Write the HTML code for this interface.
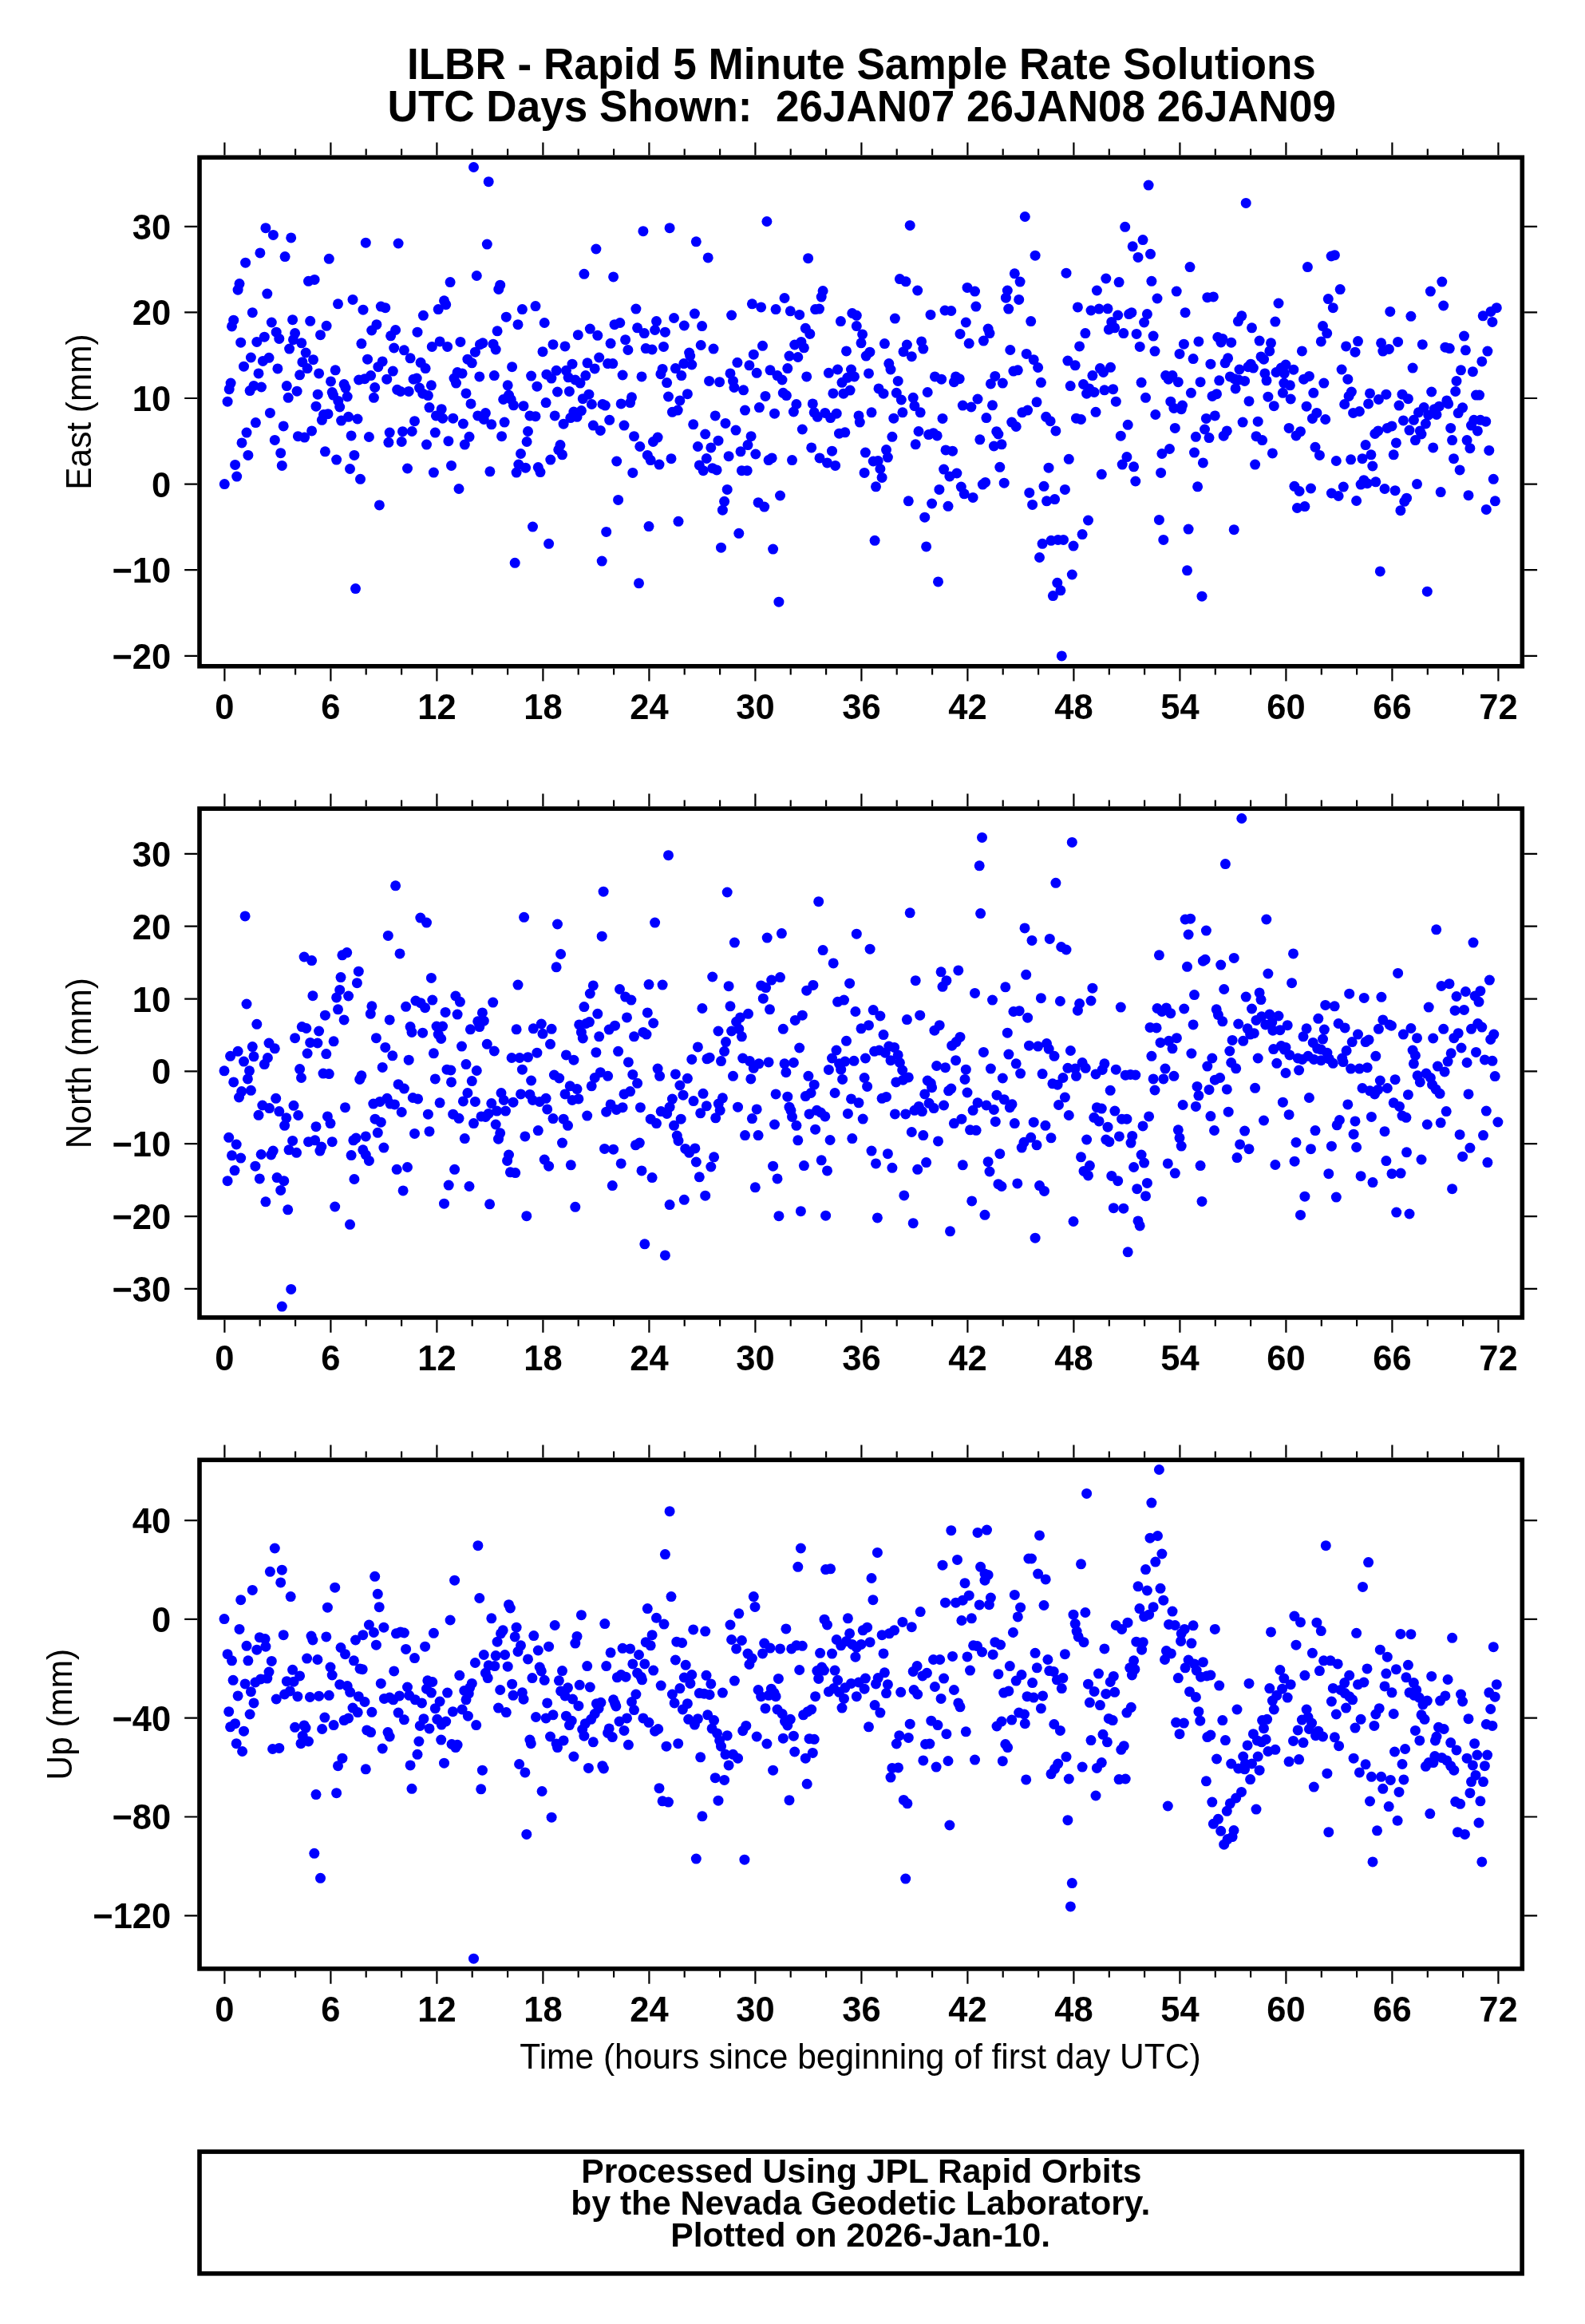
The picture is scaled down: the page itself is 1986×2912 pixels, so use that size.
<!DOCTYPE html>
<html><head><meta charset="utf-8"><style>
html,body{margin:0;padding:0;background:#fff;width:1986px;height:2912px;overflow:hidden}
svg{display:block;font-family:"Liberation Sans",sans-serif;will-change:transform}
</style></head><body>
<svg width="1986" height="2912" viewBox="0 0 1986 2912"><g font-family="Liberation Sans" font-weight="bold" font-size="56.4" text-anchor="middle" fill="#000"><text transform="translate(1079.4 99.2) scale(0.942 1)">ILBR - Rapid 5 Minute Sample Rate Solutions</text><text transform="translate(1079.8 152.2) scale(0.941 1)" xml:space="preserve">UTC Days Shown:  26JAN07 26JAN08 26JAN09</text></g><g fill="#0000ff"><circle cx="332.9" cy="285.7" r="6.5"/><circle cx="342.4" cy="294.4" r="6.5"/><circle cx="364.7" cy="297.9" r="6.5"/><circle cx="325.9" cy="316.9" r="6.5"/><circle cx="357.1" cy="321.6" r="6.5"/><circle cx="307.6" cy="329.2" r="6.5"/><circle cx="412.3" cy="324.3" r="6.5"/><circle cx="300" cy="355.6" r="6.5"/><circle cx="298.1" cy="363.2" r="6.5"/><circle cx="334.8" cy="368.1" r="6.5"/><circle cx="386.5" cy="352.3" r="6.5"/><circle cx="394.1" cy="350.4" r="6.5"/><circle cx="316.3" cy="391.7" r="6.5"/><circle cx="292.7" cy="401.2" r="6.5"/><circle cx="290.5" cy="408.9" r="6.5"/><circle cx="340.3" cy="404" r="6.5"/><circle cx="366.6" cy="400.7" r="6.5"/><circle cx="388.7" cy="402.3" r="6.5"/><circle cx="409.1" cy="408.3" r="6.5"/><circle cx="346.2" cy="416.2" r="6.5"/><circle cx="349.8" cy="424.4" r="6.5"/><circle cx="369.6" cy="417.6" r="6.5"/><circle cx="367.5" cy="425.7" r="6.5"/><circle cx="377.8" cy="429.8" r="6.5"/><circle cx="401.5" cy="419.7" r="6.5"/><circle cx="301.7" cy="429.2" r="6.5"/><circle cx="321.8" cy="428.4" r="6.5"/><circle cx="331.3" cy="422.2" r="6.5"/><circle cx="362.6" cy="437.1" r="6.5"/><circle cx="383.2" cy="442" r="6.5"/><circle cx="314.4" cy="448" r="6.5"/><circle cx="329.4" cy="452.4" r="6.5"/><circle cx="337" cy="448.3" r="6.5"/><circle cx="305.5" cy="459.2" r="6.5"/><circle cx="324" cy="467.9" r="6.5"/><circle cx="347.9" cy="461.9" r="6.5"/><circle cx="378.9" cy="453.7" r="6.5"/><circle cx="385.1" cy="461.6" r="6.5"/><circle cx="392.5" cy="450.7" r="6.5"/><circle cx="375.6" cy="469.8" r="6.5"/><circle cx="399.6" cy="467.9" r="6.5"/><circle cx="289.1" cy="480.1" r="6.5"/><circle cx="287.2" cy="487.7" r="6.5"/><circle cx="285.1" cy="503.2" r="6.5"/><circle cx="313.1" cy="489.6" r="6.5"/><circle cx="318" cy="483.4" r="6.5"/><circle cx="327.5" cy="485" r="6.5"/><circle cx="359.3" cy="483.6" r="6.5"/><circle cx="372.1" cy="490.2" r="6.5"/><circle cx="361.2" cy="498.3" r="6.5"/><circle cx="398.2" cy="494.2" r="6.5"/><circle cx="396" cy="509.2" r="6.5"/><circle cx="338.4" cy="517.4" r="6.5"/><circle cx="320.4" cy="529.6" r="6.5"/><circle cx="309" cy="542.1" r="6.5"/><circle cx="303" cy="554.9" r="6.5"/><circle cx="310.9" cy="570.4" r="6.5"/><circle cx="294.6" cy="582.4" r="6.5"/><circle cx="296.7" cy="597.1" r="6.5"/><circle cx="281.3" cy="606.6" r="6.5"/><circle cx="344.3" cy="551.4" r="6.5"/><circle cx="355.2" cy="533.9" r="6.5"/><circle cx="351.7" cy="567.7" r="6.5"/><circle cx="353.3" cy="583.4" r="6.5"/><circle cx="373.4" cy="546.7" r="6.5"/><circle cx="381.6" cy="548.1" r="6.5"/><circle cx="390.6" cy="539.9" r="6.5"/><circle cx="405.5" cy="519.5" r="6.5"/><circle cx="411" cy="518.7" r="6.5"/><circle cx="403.4" cy="526.3" r="6.5"/><circle cx="407.4" cy="565.8" r="6.5"/><circle cx="458.3" cy="304.2" r="6.5"/><circle cx="499.1" cy="305" r="6.5"/><circle cx="423.5" cy="380.8" r="6.5"/><circle cx="442" cy="375.4" r="6.5"/><circle cx="455" cy="388.2" r="6.5"/><circle cx="477.3" cy="384.1" r="6.5"/><circle cx="482.8" cy="385.7" r="6.5"/><circle cx="530.4" cy="395.3" r="6.5"/><circle cx="471.9" cy="406.7" r="6.5"/><circle cx="465.7" cy="414" r="6.5"/><circle cx="495.6" cy="413.5" r="6.5"/><circle cx="489.6" cy="420.8" r="6.5"/><circle cx="523" cy="416.2" r="6.5"/><circle cx="452.9" cy="430.6" r="6.5"/><circle cx="493.7" cy="436" r="6.5"/><circle cx="506.4" cy="438.8" r="6.5"/><circle cx="514.1" cy="448.8" r="6.5"/><circle cx="541.3" cy="434.4" r="6.5"/><circle cx="460.5" cy="450.2" r="6.5"/><circle cx="479.2" cy="452.9" r="6.5"/><circle cx="473.8" cy="459.7" r="6.5"/><circle cx="492.3" cy="465.1" r="6.5"/><circle cx="484.7" cy="475.2" r="6.5"/><circle cx="527.1" cy="454.3" r="6.5"/><circle cx="533.1" cy="461.6" r="6.5"/><circle cx="420.2" cy="463.8" r="6.5"/><circle cx="414.5" cy="477.9" r="6.5"/><circle cx="431.1" cy="481.5" r="6.5"/><circle cx="433" cy="486.1" r="6.5"/><circle cx="416.2" cy="491.5" r="6.5"/><circle cx="435.2" cy="497" r="6.5"/><circle cx="417.5" cy="495.1" r="6.5"/><circle cx="423.8" cy="502.4" r="6.5"/><circle cx="425.7" cy="510" r="6.5"/><circle cx="449.6" cy="476" r="6.5"/><circle cx="457" cy="474.7" r="6.5"/><circle cx="464.6" cy="470.6" r="6.5"/><circle cx="469.7" cy="485.5" r="6.5"/><circle cx="468.4" cy="498.3" r="6.5"/><circle cx="497.7" cy="488.3" r="6.5"/><circle cx="501.8" cy="490.4" r="6.5"/><circle cx="512.2" cy="490.4" r="6.5"/><circle cx="518.1" cy="475.2" r="6.5"/><circle cx="522.2" cy="474.1" r="6.5"/><circle cx="525.5" cy="486.1" r="6.5"/><circle cx="529.8" cy="493.2" r="6.5"/><circle cx="536.4" cy="495.6" r="6.5"/><circle cx="540.4" cy="482.8" r="6.5"/><circle cx="538" cy="510.6" r="6.5"/><circle cx="427.6" cy="527.1" r="6.5"/><circle cx="436.6" cy="522.3" r="6.5"/><circle cx="448" cy="525" r="6.5"/><circle cx="440.1" cy="545.9" r="6.5"/><circle cx="462.4" cy="547.5" r="6.5"/><circle cx="488.2" cy="542.1" r="6.5"/><circle cx="486.9" cy="554.3" r="6.5"/><circle cx="504.5" cy="540.7" r="6.5"/><circle cx="503.2" cy="553.5" r="6.5"/><circle cx="516.2" cy="540.5" r="6.5"/><circle cx="519.5" cy="527.7" r="6.5"/><circle cx="545.3" cy="542.1" r="6.5"/><circle cx="534.5" cy="557.1" r="6.5"/><circle cx="421.6" cy="576.1" r="6.5"/><circle cx="443.9" cy="570.4" r="6.5"/><circle cx="438.5" cy="587.5" r="6.5"/><circle cx="451.5" cy="600.3" r="6.5"/><circle cx="510.5" cy="587" r="6.5"/><circle cx="543.4" cy="592.1" r="6.5"/><circle cx="475.4" cy="632.9" r="6.5"/><circle cx="445.5" cy="737.6" r="6.5"/><circle cx="593.5" cy="209.5" r="6.5"/><circle cx="612.2" cy="227.7" r="6.5"/><circle cx="610.3" cy="306.1" r="6.5"/><circle cx="597.3" cy="345.5" r="6.5"/><circle cx="564.1" cy="353.6" r="6.5"/><circle cx="626.7" cy="357.2" r="6.5"/><circle cx="624.8" cy="362.4" r="6.5"/><circle cx="556.5" cy="376.8" r="6.5"/><circle cx="558.7" cy="381.7" r="6.5"/><circle cx="549.2" cy="387.6" r="6.5"/><circle cx="634.3" cy="397.2" r="6.5"/><circle cx="654.4" cy="387.6" r="6.5"/><circle cx="671" cy="383.6" r="6.5"/><circle cx="649" cy="406.7" r="6.5"/><circle cx="623.1" cy="414.8" r="6.5"/><circle cx="551.1" cy="427.9" r="6.5"/><circle cx="560.6" cy="434.4" r="6.5"/><circle cx="576.9" cy="428.4" r="6.5"/><circle cx="604.9" cy="429.8" r="6.5"/><circle cx="601.4" cy="431.7" r="6.5"/><circle cx="595.4" cy="441.2" r="6.5"/><circle cx="618" cy="431.2" r="6.5"/><circle cx="621.2" cy="438" r="6.5"/><circle cx="585.9" cy="450.2" r="6.5"/><circle cx="591.3" cy="454.8" r="6.5"/><circle cx="641.6" cy="459.7" r="6.5"/><circle cx="573.1" cy="466.5" r="6.5"/><circle cx="579.1" cy="467.9" r="6.5"/><circle cx="569" cy="474.1" r="6.5"/><circle cx="571.5" cy="480.1" r="6.5"/><circle cx="600.8" cy="471.9" r="6.5"/><circle cx="619.3" cy="470.6" r="6.5"/><circle cx="665.6" cy="471.1" r="6.5"/><circle cx="636.2" cy="482.8" r="6.5"/><circle cx="672.9" cy="484.2" r="6.5"/><circle cx="584" cy="492.9" r="6.5"/><circle cx="590" cy="505.9" r="6.5"/><circle cx="630.7" cy="500.5" r="6.5"/><circle cx="637.5" cy="495.1" r="6.5"/><circle cx="640.3" cy="500.5" r="6.5"/><circle cx="643.5" cy="507.8" r="6.5"/><circle cx="656" cy="508.7" r="6.5"/><circle cx="546.4" cy="520.9" r="6.5"/><circle cx="553.2" cy="512.7" r="6.5"/><circle cx="554.6" cy="524.2" r="6.5"/><circle cx="567.7" cy="524.2" r="6.5"/><circle cx="580.4" cy="531" r="6.5"/><circle cx="598.7" cy="520.9" r="6.5"/><circle cx="608.4" cy="517.6" r="6.5"/><circle cx="606.3" cy="525.5" r="6.5"/><circle cx="615.8" cy="531.8" r="6.5"/><circle cx="632.1" cy="529.1" r="6.5"/><circle cx="663.9" cy="520.9" r="6.5"/><circle cx="671" cy="521.7" r="6.5"/><circle cx="561.9" cy="552.7" r="6.5"/><circle cx="588" cy="547.3" r="6.5"/><circle cx="582.3" cy="557.1" r="6.5"/><circle cx="628.6" cy="546.7" r="6.5"/><circle cx="661.5" cy="540.5" r="6.5"/><circle cx="660.1" cy="553.5" r="6.5"/><circle cx="652.5" cy="568.5" r="6.5"/><circle cx="565.5" cy="583.4" r="6.5"/><circle cx="613.9" cy="590.8" r="6.5"/><circle cx="649.8" cy="582.1" r="6.5"/><circle cx="647.1" cy="592.1" r="6.5"/><circle cx="658.5" cy="586.2" r="6.5"/><circle cx="674.3" cy="585.6" r="6.5"/><circle cx="677" cy="591.6" r="6.5"/><circle cx="575" cy="612.5" r="6.5"/><circle cx="667.5" cy="660.1" r="6.5"/><circle cx="645.2" cy="705.3" r="6.5"/><circle cx="805.9" cy="289.7" r="6.5"/><circle cx="746.9" cy="312" r="6.5"/><circle cx="731.9" cy="343.3" r="6.5"/><circle cx="768.6" cy="346.9" r="6.5"/><circle cx="796.9" cy="387.1" r="6.5"/><circle cx="682.2" cy="404.5" r="6.5"/><circle cx="739.3" cy="412.1" r="6.5"/><circle cx="724.3" cy="419.7" r="6.5"/><circle cx="748.8" cy="420.3" r="6.5"/><circle cx="770" cy="406.7" r="6.5"/><circle cx="776.8" cy="404.5" r="6.5"/><circle cx="798.6" cy="410.8" r="6.5"/><circle cx="807.3" cy="417.6" r="6.5"/><circle cx="765.1" cy="430.3" r="6.5"/><circle cx="783.6" cy="425.7" r="6.5"/><circle cx="786.9" cy="438.5" r="6.5"/><circle cx="809.2" cy="436.6" r="6.5"/><circle cx="693" cy="431.7" r="6.5"/><circle cx="708" cy="433.9" r="6.5"/><circle cx="680" cy="440.7" r="6.5"/><circle cx="717" cy="456.2" r="6.5"/><circle cx="736" cy="454.8" r="6.5"/><circle cx="745.2" cy="461.9" r="6.5"/><circle cx="750.7" cy="448" r="6.5"/><circle cx="761.6" cy="455.6" r="6.5"/><circle cx="767.8" cy="455.6" r="6.5"/><circle cx="780.1" cy="470" r="6.5"/><circle cx="804" cy="471.9" r="6.5"/><circle cx="684.9" cy="469.2" r="6.5"/><circle cx="690.9" cy="474.1" r="6.5"/><circle cx="697.1" cy="464.3" r="6.5"/><circle cx="709.4" cy="464.3" r="6.5"/><circle cx="712.1" cy="472.8" r="6.5"/><circle cx="720.8" cy="476" r="6.5"/><circle cx="727" cy="480.1" r="6.5"/><circle cx="733.8" cy="470.6" r="6.5"/><circle cx="698.5" cy="491" r="6.5"/><circle cx="713.4" cy="490.4" r="6.5"/><circle cx="684.1" cy="504.6" r="6.5"/><circle cx="737.9" cy="494.2" r="6.5"/><circle cx="730.3" cy="499.7" r="6.5"/><circle cx="741.4" cy="506.5" r="6.5"/><circle cx="755" cy="506.5" r="6.5"/><circle cx="758.3" cy="508.1" r="6.5"/><circle cx="778.2" cy="505.9" r="6.5"/><circle cx="791.5" cy="497.8" r="6.5"/><circle cx="789.6" cy="504.6" r="6.5"/><circle cx="695.2" cy="520.9" r="6.5"/><circle cx="718.9" cy="516" r="6.5"/><circle cx="728.4" cy="514.6" r="6.5"/><circle cx="723" cy="522.3" r="6.5"/><circle cx="714.8" cy="523.6" r="6.5"/><circle cx="706.1" cy="531.2" r="6.5"/><circle cx="763.7" cy="526.3" r="6.5"/><circle cx="743.3" cy="533.1" r="6.5"/><circle cx="752.3" cy="539.4" r="6.5"/><circle cx="782" cy="533.1" r="6.5"/><circle cx="794.5" cy="546.7" r="6.5"/><circle cx="801.8" cy="559.5" r="6.5"/><circle cx="811.3" cy="570.4" r="6.5"/><circle cx="702" cy="557.6" r="6.5"/><circle cx="699.8" cy="563.6" r="6.5"/><circle cx="704.5" cy="569.8" r="6.5"/><circle cx="689.8" cy="576.1" r="6.5"/><circle cx="772.7" cy="578" r="6.5"/><circle cx="792.8" cy="592.4" r="6.5"/><circle cx="774.6" cy="626.4" r="6.5"/><circle cx="759.7" cy="666.4" r="6.5"/><circle cx="687.6" cy="681.3" r="6.5"/><circle cx="754.2" cy="703.1" r="6.5"/><circle cx="800.5" cy="730.8" r="6.5"/><circle cx="839.1" cy="285.7" r="6.5"/><circle cx="872.3" cy="302.8" r="6.5"/><circle cx="887.2" cy="322.9" r="6.5"/><circle cx="942.4" cy="380.8" r="6.5"/><circle cx="844.5" cy="398.5" r="6.5"/><circle cx="870.4" cy="393.1" r="6.5"/><circle cx="916.6" cy="395" r="6.5"/><circle cx="822.5" cy="402.6" r="6.5"/><circle cx="820.6" cy="413.5" r="6.5"/><circle cx="833.4" cy="416.2" r="6.5"/><circle cx="857.3" cy="408" r="6.5"/><circle cx="879.6" cy="408.6" r="6.5"/><circle cx="817.1" cy="438" r="6.5"/><circle cx="831.5" cy="434.4" r="6.5"/><circle cx="878.2" cy="432.5" r="6.5"/><circle cx="894" cy="437.1" r="6.5"/><circle cx="863.6" cy="442" r="6.5"/><circle cx="864.7" cy="446.1" r="6.5"/><circle cx="856.8" cy="455.6" r="6.5"/><circle cx="866.8" cy="457" r="6.5"/><circle cx="846.4" cy="461.6" r="6.5"/><circle cx="853.8" cy="470.6" r="6.5"/><circle cx="830.1" cy="462.4" r="6.5"/><circle cx="827.9" cy="468.7" r="6.5"/><circle cx="835.6" cy="479.6" r="6.5"/><circle cx="923.9" cy="454.3" r="6.5"/><circle cx="938.9" cy="457.8" r="6.5"/><circle cx="944.3" cy="444.2" r="6.5"/><circle cx="915" cy="467.9" r="6.5"/><circle cx="918.5" cy="477.4" r="6.5"/><circle cx="919.9" cy="485.5" r="6.5"/><circle cx="931.6" cy="488.8" r="6.5"/><circle cx="888.6" cy="477.4" r="6.5"/><circle cx="901.6" cy="478.7" r="6.5"/><circle cx="837.5" cy="497" r="6.5"/><circle cx="851.9" cy="501.9" r="6.5"/><circle cx="861.4" cy="493.7" r="6.5"/><circle cx="842.4" cy="516.3" r="6.5"/><circle cx="849.2" cy="514.1" r="6.5"/><circle cx="933.5" cy="514.1" r="6.5"/><circle cx="896.2" cy="520.9" r="6.5"/><circle cx="868.7" cy="531.8" r="6.5"/><circle cx="909" cy="530.4" r="6.5"/><circle cx="922" cy="539.1" r="6.5"/><circle cx="824.1" cy="548.1" r="6.5"/><circle cx="818.4" cy="553.5" r="6.5"/><circle cx="883.7" cy="544" r="6.5"/><circle cx="900" cy="552.2" r="6.5"/><circle cx="874.4" cy="559.5" r="6.5"/><circle cx="890.8" cy="560.9" r="6.5"/><circle cx="941.1" cy="546.7" r="6.5"/><circle cx="937" cy="557.6" r="6.5"/><circle cx="928" cy="565.8" r="6.5"/><circle cx="913.1" cy="571.7" r="6.5"/><circle cx="841" cy="574.7" r="6.5"/><circle cx="815.2" cy="576.6" r="6.5"/><circle cx="826" cy="582.1" r="6.5"/><circle cx="885.3" cy="574.5" r="6.5"/><circle cx="876.3" cy="582.9" r="6.5"/><circle cx="892.7" cy="586.7" r="6.5"/><circle cx="898.1" cy="588.9" r="6.5"/><circle cx="881.2" cy="589.7" r="6.5"/><circle cx="929.4" cy="589.7" r="6.5"/><circle cx="936.2" cy="589.7" r="6.5"/><circle cx="911.2" cy="613.4" r="6.5"/><circle cx="907.6" cy="628.3" r="6.5"/><circle cx="905.4" cy="639.2" r="6.5"/><circle cx="850" cy="653.3" r="6.5"/><circle cx="813" cy="659.6" r="6.5"/><circle cx="925.8" cy="668.3" r="6.5"/><circle cx="903.5" cy="686.2" r="6.5"/><circle cx="960.9" cy="277.5" r="6.5"/><circle cx="1012.6" cy="323.7" r="6.5"/><circle cx="983" cy="373.5" r="6.5"/><circle cx="1031.1" cy="364.5" r="6.5"/><circle cx="1029.2" cy="372.1" r="6.5"/><circle cx="953.6" cy="384.9" r="6.5"/><circle cx="972.1" cy="387.6" r="6.5"/><circle cx="990.3" cy="389.8" r="6.5"/><circle cx="1001.7" cy="394.4" r="6.5"/><circle cx="1021.6" cy="387.6" r="6.5"/><circle cx="1026.5" cy="387.1" r="6.5"/><circle cx="1067.8" cy="392.5" r="6.5"/><circle cx="1073.3" cy="395.3" r="6.5"/><circle cx="1053.4" cy="402.6" r="6.5"/><circle cx="1073.3" cy="408.6" r="6.5"/><circle cx="1009.3" cy="411.3" r="6.5"/><circle cx="1014.8" cy="418.4" r="6.5"/><circle cx="955.5" cy="433.3" r="6.5"/><circle cx="995.7" cy="432" r="6.5"/><circle cx="1003.9" cy="428.4" r="6.5"/><circle cx="1007.4" cy="435.8" r="6.5"/><circle cx="989" cy="446.1" r="6.5"/><circle cx="999.8" cy="447.5" r="6.5"/><circle cx="1060.5" cy="439.9" r="6.5"/><circle cx="948.2" cy="467.3" r="6.5"/><circle cx="965" cy="463.8" r="6.5"/><circle cx="974" cy="470.6" r="6.5"/><circle cx="980" cy="476" r="6.5"/><circle cx="986.8" cy="461.6" r="6.5"/><circle cx="1010.7" cy="471.9" r="6.5"/><circle cx="1038.4" cy="467.3" r="6.5"/><circle cx="1049.6" cy="463" r="6.5"/><circle cx="1066.5" cy="463" r="6.5"/><circle cx="1070.5" cy="471.9" r="6.5"/><circle cx="1061.8" cy="473.3" r="6.5"/><circle cx="1055" cy="479.3" r="6.5"/><circle cx="959" cy="496.4" r="6.5"/><circle cx="981.3" cy="492.3" r="6.5"/><circle cx="985.4" cy="495.6" r="6.5"/><circle cx="1043.9" cy="492.9" r="6.5"/><circle cx="1056.9" cy="493.2" r="6.5"/><circle cx="1065.1" cy="489.1" r="6.5"/><circle cx="951.4" cy="510.6" r="6.5"/><circle cx="970.5" cy="518.2" r="6.5"/><circle cx="997.9" cy="506.5" r="6.5"/><circle cx="994.4" cy="516" r="6.5"/><circle cx="1018.3" cy="505.9" r="6.5"/><circle cx="1020.2" cy="516.8" r="6.5"/><circle cx="1024.3" cy="522.3" r="6.5"/><circle cx="1033.8" cy="517.4" r="6.5"/><circle cx="1040.6" cy="523.6" r="6.5"/><circle cx="1048.2" cy="518.2" r="6.5"/><circle cx="1076" cy="520.9" r="6.5"/><circle cx="1077.3" cy="529.1" r="6.5"/><circle cx="1005.3" cy="538" r="6.5"/><circle cx="1051.5" cy="543.2" r="6.5"/><circle cx="1058.8" cy="541.8" r="6.5"/><circle cx="1016.7" cy="560.9" r="6.5"/><circle cx="1042.5" cy="565.2" r="6.5"/><circle cx="946.8" cy="569" r="6.5"/><circle cx="963.1" cy="576.6" r="6.5"/><circle cx="967.2" cy="573.9" r="6.5"/><circle cx="992.5" cy="576.6" r="6.5"/><circle cx="1027" cy="573.9" r="6.5"/><circle cx="1036.5" cy="579.9" r="6.5"/><circle cx="1046.6" cy="583.4" r="6.5"/><circle cx="977.5" cy="621" r="6.5"/><circle cx="950.1" cy="629.7" r="6.5"/><circle cx="957.7" cy="635.1" r="6.5"/><circle cx="968.6" cy="688.1" r="6.5"/><circle cx="975.9" cy="754.2" r="6.5"/><circle cx="1140.2" cy="282.4" r="6.5"/><circle cx="1127.4" cy="349.6" r="6.5"/><circle cx="1135" cy="352.8" r="6.5"/><circle cx="1149.7" cy="364" r="6.5"/><circle cx="1121.4" cy="399.1" r="6.5"/><circle cx="1166" cy="394.4" r="6.5"/><circle cx="1184" cy="389" r="6.5"/><circle cx="1191.8" cy="389.5" r="6.5"/><circle cx="1210.3" cy="404" r="6.5"/><circle cx="1203" cy="418.4" r="6.5"/><circle cx="1080.6" cy="418.9" r="6.5"/><circle cx="1079" cy="429.8" r="6.5"/><circle cx="1085.2" cy="446.1" r="6.5"/><circle cx="1089.9" cy="441.2" r="6.5"/><circle cx="1108.4" cy="430.6" r="6.5"/><circle cx="1136.4" cy="432" r="6.5"/><circle cx="1132" cy="440.7" r="6.5"/><circle cx="1142.3" cy="446.7" r="6.5"/><circle cx="1154.6" cy="427.9" r="6.5"/><circle cx="1156.8" cy="437.1" r="6.5"/><circle cx="1113.8" cy="455.6" r="6.5"/><circle cx="1116" cy="463" r="6.5"/><circle cx="1088.5" cy="467.9" r="6.5"/><circle cx="1125.2" cy="477.4" r="6.5"/><circle cx="1171.4" cy="471.9" r="6.5"/><circle cx="1179.6" cy="475.2" r="6.5"/><circle cx="1197.6" cy="471.9" r="6.5"/><circle cx="1202.2" cy="474.7" r="6.5"/><circle cx="1195.4" cy="478.7" r="6.5"/><circle cx="1101" cy="486.9" r="6.5"/><circle cx="1107" cy="493.2" r="6.5"/><circle cx="1123.3" cy="492.3" r="6.5"/><circle cx="1129.3" cy="501" r="6.5"/><circle cx="1144.2" cy="498.3" r="6.5"/><circle cx="1145.9" cy="508.7" r="6.5"/><circle cx="1153.2" cy="516.8" r="6.5"/><circle cx="1162.2" cy="491.5" r="6.5"/><circle cx="1206.3" cy="508.1" r="6.5"/><circle cx="1092" cy="516.8" r="6.5"/><circle cx="1119.8" cy="524.2" r="6.5"/><circle cx="1130.9" cy="516.8" r="6.5"/><circle cx="1181" cy="524.4" r="6.5"/><circle cx="1117.9" cy="547.3" r="6.5"/><circle cx="1151" cy="540.5" r="6.5"/><circle cx="1147.2" cy="556.8" r="6.5"/><circle cx="1163.6" cy="544.6" r="6.5"/><circle cx="1169.5" cy="542.7" r="6.5"/><circle cx="1174.2" cy="545.9" r="6.5"/><circle cx="1084.4" cy="567.1" r="6.5"/><circle cx="1110.5" cy="563.6" r="6.5"/><circle cx="1112.4" cy="573.1" r="6.5"/><circle cx="1094.2" cy="578" r="6.5"/><circle cx="1100.2" cy="577.5" r="6.5"/><circle cx="1102.9" cy="587.5" r="6.5"/><circle cx="1105.1" cy="598.4" r="6.5"/><circle cx="1083.1" cy="592.4" r="6.5"/><circle cx="1097.5" cy="609.8" r="6.5"/><circle cx="1185" cy="563.9" r="6.5"/><circle cx="1193.5" cy="565.2" r="6.5"/><circle cx="1182.6" cy="588.1" r="6.5"/><circle cx="1189.9" cy="597" r="6.5"/><circle cx="1198.9" cy="593" r="6.5"/><circle cx="1204.3" cy="610.1" r="6.5"/><circle cx="1208.2" cy="618.8" r="6.5"/><circle cx="1176.9" cy="613.4" r="6.5"/><circle cx="1138.3" cy="627.8" r="6.5"/><circle cx="1167.6" cy="631" r="6.5"/><circle cx="1188" cy="634.3" r="6.5"/><circle cx="1158.7" cy="648.2" r="6.5"/><circle cx="1096.1" cy="677.3" r="6.5"/><circle cx="1160.6" cy="684.9" r="6.5"/><circle cx="1175.5" cy="728.9" r="6.5"/><circle cx="1284.3" cy="271.5" r="6.5"/><circle cx="1297.1" cy="320.2" r="6.5"/><circle cx="1271.3" cy="342.8" r="6.5"/><circle cx="1278.1" cy="353.1" r="6.5"/><circle cx="1336" cy="342.2" r="6.5"/><circle cx="1212" cy="360.4" r="6.5"/><circle cx="1221.5" cy="365.1" r="6.5"/><circle cx="1262.3" cy="364" r="6.5"/><circle cx="1260.4" cy="373.2" r="6.5"/><circle cx="1276.7" cy="375.4" r="6.5"/><circle cx="1222.9" cy="384.1" r="6.5"/><circle cx="1263.7" cy="387.1" r="6.5"/><circle cx="1291.7" cy="402.6" r="6.5"/><circle cx="1238.1" cy="412.1" r="6.5"/><circle cx="1240" cy="417.6" r="6.5"/><circle cx="1232.4" cy="427.1" r="6.5"/><circle cx="1214.2" cy="430.3" r="6.5"/><circle cx="1265.8" cy="438.5" r="6.5"/><circle cx="1286.2" cy="443.4" r="6.5"/><circle cx="1295.2" cy="450.7" r="6.5"/><circle cx="1300.6" cy="460.5" r="6.5"/><circle cx="1337.9" cy="452.1" r="6.5"/><circle cx="1246.8" cy="471.4" r="6.5"/><circle cx="1241.4" cy="480.9" r="6.5"/><circle cx="1256.3" cy="480.1" r="6.5"/><circle cx="1269.9" cy="465.1" r="6.5"/><circle cx="1275.3" cy="463.8" r="6.5"/><circle cx="1304.4" cy="479.3" r="6.5"/><circle cx="1341.2" cy="483.6" r="6.5"/><circle cx="1225" cy="500" r="6.5"/><circle cx="1216.9" cy="510" r="6.5"/><circle cx="1243.5" cy="507.8" r="6.5"/><circle cx="1235.9" cy="523.6" r="6.5"/><circle cx="1299" cy="503.8" r="6.5"/><circle cx="1280.8" cy="516.8" r="6.5"/><circle cx="1287.6" cy="514.1" r="6.5"/><circle cx="1310.7" cy="522.3" r="6.5"/><circle cx="1316.1" cy="527.7" r="6.5"/><circle cx="1322.9" cy="539.9" r="6.5"/><circle cx="1267.7" cy="529.1" r="6.5"/><circle cx="1273.2" cy="534.5" r="6.5"/><circle cx="1248.7" cy="540.7" r="6.5"/><circle cx="1250.9" cy="544" r="6.5"/><circle cx="1227.8" cy="550.8" r="6.5"/><circle cx="1245.4" cy="559" r="6.5"/><circle cx="1255" cy="556.8" r="6.5"/><circle cx="1339.3" cy="575.3" r="6.5"/><circle cx="1252.8" cy="585.3" r="6.5"/><circle cx="1314" cy="586.2" r="6.5"/><circle cx="1231.3" cy="607.1" r="6.5"/><circle cx="1234.6" cy="604.4" r="6.5"/><circle cx="1258.2" cy="605.2" r="6.5"/><circle cx="1219.1" cy="623.4" r="6.5"/><circle cx="1289.8" cy="617.4" r="6.5"/><circle cx="1293.6" cy="632.4" r="6.5"/><circle cx="1308" cy="609.3" r="6.5"/><circle cx="1311.5" cy="627.8" r="6.5"/><circle cx="1321.6" cy="625.6" r="6.5"/><circle cx="1334.4" cy="613.4" r="6.5"/><circle cx="1306.1" cy="681.3" r="6.5"/><circle cx="1317" cy="677.3" r="6.5"/><circle cx="1325.7" cy="676.4" r="6.5"/><circle cx="1332.5" cy="676.4" r="6.5"/><circle cx="1302.5" cy="698.5" r="6.5"/><circle cx="1343.3" cy="720" r="6.5"/><circle cx="1324.8" cy="730.3" r="6.5"/><circle cx="1328.9" cy="739.8" r="6.5"/><circle cx="1319.4" cy="746.6" r="6.5"/><circle cx="1330.3" cy="821.9" r="6.5"/><circle cx="1439.1" cy="232.1" r="6.5"/><circle cx="1409.7" cy="284.3" r="6.5"/><circle cx="1432" cy="300.6" r="6.5"/><circle cx="1419.2" cy="308.8" r="6.5"/><circle cx="1426" cy="322.4" r="6.5"/><circle cx="1441.5" cy="318.3" r="6.5"/><circle cx="1385.8" cy="349" r="6.5"/><circle cx="1402.1" cy="353.6" r="6.5"/><circle cx="1442.9" cy="352.3" r="6.5"/><circle cx="1374.4" cy="364" r="6.5"/><circle cx="1450" cy="374" r="6.5"/><circle cx="1474.2" cy="365.1" r="6.5"/><circle cx="1350.4" cy="384.9" r="6.5"/><circle cx="1367" cy="389" r="6.5"/><circle cx="1377.1" cy="387.1" r="6.5"/><circle cx="1388" cy="386.8" r="6.5"/><circle cx="1400.7" cy="395" r="6.5"/><circle cx="1392.8" cy="403.4" r="6.5"/><circle cx="1389.3" cy="412.9" r="6.5"/><circle cx="1396.7" cy="410.8" r="6.5"/><circle cx="1414.6" cy="393.6" r="6.5"/><circle cx="1417.9" cy="391.7" r="6.5"/><circle cx="1437.4" cy="393.6" r="6.5"/><circle cx="1433.6" cy="404" r="6.5"/><circle cx="1359.9" cy="417.6" r="6.5"/><circle cx="1407.8" cy="417.6" r="6.5"/><circle cx="1424.1" cy="418.4" r="6.5"/><circle cx="1445.1" cy="421.1" r="6.5"/><circle cx="1352.6" cy="433.9" r="6.5"/><circle cx="1428.2" cy="434.4" r="6.5"/><circle cx="1447" cy="440.1" r="6.5"/><circle cx="1347.2" cy="457.8" r="6.5"/><circle cx="1378.4" cy="461.6" r="6.5"/><circle cx="1382.5" cy="466.5" r="6.5"/><circle cx="1391.5" cy="460.3" r="6.5"/><circle cx="1368.9" cy="470.6" r="6.5"/><circle cx="1357.5" cy="481.5" r="6.5"/><circle cx="1364.8" cy="486.9" r="6.5"/><circle cx="1361.6" cy="493.2" r="6.5"/><circle cx="1371.1" cy="491.5" r="6.5"/><circle cx="1383.9" cy="488.8" r="6.5"/><circle cx="1394.7" cy="487.7" r="6.5"/><circle cx="1398.3" cy="503.2" r="6.5"/><circle cx="1430.1" cy="479.3" r="6.5"/><circle cx="1435.5" cy="498.3" r="6.5"/><circle cx="1460.6" cy="470.6" r="6.5"/><circle cx="1464.1" cy="475.2" r="6.5"/><circle cx="1469" cy="470.6" r="6.5"/><circle cx="1476.3" cy="478.7" r="6.5"/><circle cx="1466.8" cy="503.2" r="6.5"/><circle cx="1470.9" cy="511.4" r="6.5"/><circle cx="1447.8" cy="519.5" r="6.5"/><circle cx="1373" cy="516.3" r="6.5"/><circle cx="1348.5" cy="524.2" r="6.5"/><circle cx="1354.5" cy="525.5" r="6.5"/><circle cx="1413.2" cy="532.3" r="6.5"/><circle cx="1404.3" cy="546.2" r="6.5"/><circle cx="1472.3" cy="536.4" r="6.5"/><circle cx="1465.5" cy="562.5" r="6.5"/><circle cx="1455.9" cy="568.5" r="6.5"/><circle cx="1411.9" cy="572.6" r="6.5"/><circle cx="1406.2" cy="582.1" r="6.5"/><circle cx="1420.6" cy="584.8" r="6.5"/><circle cx="1454.6" cy="592.4" r="6.5"/><circle cx="1380.3" cy="594.3" r="6.5"/><circle cx="1422.8" cy="603" r="6.5"/><circle cx="1363.5" cy="652" r="6.5"/><circle cx="1356.1" cy="669.6" r="6.5"/><circle cx="1345" cy="684.1" r="6.5"/><circle cx="1452.4" cy="651.4" r="6.5"/><circle cx="1457.8" cy="676.4" r="6.5"/><circle cx="1561.2" cy="254.4" r="6.5"/><circle cx="1491" cy="334.6" r="6.5"/><circle cx="1512.8" cy="372.7" r="6.5"/><circle cx="1520.4" cy="371.9" r="6.5"/><circle cx="1602" cy="380" r="6.5"/><circle cx="1485.1" cy="391.7" r="6.5"/><circle cx="1555.8" cy="395.8" r="6.5"/><circle cx="1551.4" cy="402.6" r="6.5"/><circle cx="1568.5" cy="410.8" r="6.5"/><circle cx="1597.9" cy="403.1" r="6.5"/><circle cx="1483.4" cy="431.2" r="6.5"/><circle cx="1501.9" cy="427.9" r="6.5"/><circle cx="1525.8" cy="422.5" r="6.5"/><circle cx="1531.8" cy="424.4" r="6.5"/><circle cx="1529.9" cy="429" r="6.5"/><circle cx="1542.7" cy="429.2" r="6.5"/><circle cx="1578.1" cy="427.1" r="6.5"/><circle cx="1592.5" cy="429.8" r="6.5"/><circle cx="1590.8" cy="439.9" r="6.5"/><circle cx="1478" cy="443.4" r="6.5"/><circle cx="1495.1" cy="449.6" r="6.5"/><circle cx="1516.9" cy="456.2" r="6.5"/><circle cx="1538.6" cy="448.8" r="6.5"/><circle cx="1535.1" cy="454.8" r="6.5"/><circle cx="1580" cy="446.9" r="6.5"/><circle cx="1583.5" cy="450.2" r="6.5"/><circle cx="1553" cy="463" r="6.5"/><circle cx="1563.9" cy="459.7" r="6.5"/><circle cx="1567.2" cy="456.2" r="6.5"/><circle cx="1570.4" cy="461.1" r="6.5"/><circle cx="1584.9" cy="467.9" r="6.5"/><circle cx="1587" cy="476.8" r="6.5"/><circle cx="1599" cy="466.5" r="6.5"/><circle cx="1605.3" cy="461.1" r="6.5"/><circle cx="1609.3" cy="467.9" r="6.5"/><circle cx="1608.8" cy="480.1" r="6.5"/><circle cx="1607.4" cy="492.3" r="6.5"/><circle cx="1504.1" cy="478.7" r="6.5"/><circle cx="1527.7" cy="476.8" r="6.5"/><circle cx="1541.3" cy="471.9" r="6.5"/><circle cx="1546.8" cy="474.7" r="6.5"/><circle cx="1552.2" cy="476" r="6.5"/><circle cx="1559.6" cy="477.4" r="6.5"/><circle cx="1548.1" cy="486.9" r="6.5"/><circle cx="1492.4" cy="492.3" r="6.5"/><circle cx="1519" cy="496.4" r="6.5"/><circle cx="1524.5" cy="493.7" r="6.5"/><circle cx="1565" cy="502.7" r="6.5"/><circle cx="1588.9" cy="497.2" r="6.5"/><circle cx="1596.3" cy="508.7" r="6.5"/><circle cx="1481.5" cy="508.1" r="6.5"/><circle cx="1480.2" cy="512.7" r="6.5"/><circle cx="1511.4" cy="524.4" r="6.5"/><circle cx="1522.3" cy="520.9" r="6.5"/><circle cx="1509.5" cy="538" r="6.5"/><circle cx="1498.4" cy="547.3" r="6.5"/><circle cx="1515" cy="548.6" r="6.5"/><circle cx="1537.3" cy="539.9" r="6.5"/><circle cx="1533.2" cy="546.2" r="6.5"/><circle cx="1557.1" cy="529.1" r="6.5"/><circle cx="1576.2" cy="528.2" r="6.5"/><circle cx="1574" cy="546.7" r="6.5"/><circle cx="1581.6" cy="551.6" r="6.5"/><circle cx="1496.5" cy="567.1" r="6.5"/><circle cx="1507.4" cy="579.9" r="6.5"/><circle cx="1594.4" cy="567.9" r="6.5"/><circle cx="1572.6" cy="582.1" r="6.5"/><circle cx="1500.6" cy="609.8" r="6.5"/><circle cx="1489.1" cy="663.1" r="6.5"/><circle cx="1546.2" cy="663.7" r="6.5"/><circle cx="1487.5" cy="714.8" r="6.5"/><circle cx="1506" cy="747.2" r="6.5"/><circle cx="1638.4" cy="334.6" r="6.5"/><circle cx="1668.1" cy="321" r="6.5"/><circle cx="1672.4" cy="319.7" r="6.5"/><circle cx="1679.2" cy="362.6" r="6.5"/><circle cx="1664.3" cy="374.6" r="6.5"/><circle cx="1670.3" cy="385.7" r="6.5"/><circle cx="1741.8" cy="390.4" r="6.5"/><circle cx="1657.5" cy="408.6" r="6.5"/><circle cx="1662.7" cy="417.6" r="6.5"/><circle cx="1655.3" cy="427.9" r="6.5"/><circle cx="1631.4" cy="439.9" r="6.5"/><circle cx="1686.6" cy="433.9" r="6.5"/><circle cx="1701.5" cy="427.6" r="6.5"/><circle cx="1698" cy="441.2" r="6.5"/><circle cx="1730.6" cy="429.8" r="6.5"/><circle cx="1732.8" cy="440.1" r="6.5"/><circle cx="1740.4" cy="437.4" r="6.5"/><circle cx="1611" cy="457" r="6.5"/><circle cx="1620.8" cy="463.2" r="6.5"/><circle cx="1681.1" cy="463" r="6.5"/><circle cx="1688.8" cy="475.2" r="6.5"/><circle cx="1633.6" cy="475.2" r="6.5"/><circle cx="1640.4" cy="471.4" r="6.5"/><circle cx="1658.8" cy="480.1" r="6.5"/><circle cx="1616.4" cy="482.8" r="6.5"/><circle cx="1645.8" cy="492.3" r="6.5"/><circle cx="1617.2" cy="500" r="6.5"/><circle cx="1637.1" cy="509.2" r="6.5"/><circle cx="1649.9" cy="517.4" r="6.5"/><circle cx="1644.4" cy="524.4" r="6.5"/><circle cx="1660.7" cy="525.5" r="6.5"/><circle cx="1693.4" cy="491" r="6.5"/><circle cx="1690.1" cy="496.4" r="6.5"/><circle cx="1684.7" cy="506.5" r="6.5"/><circle cx="1716.5" cy="492.9" r="6.5"/><circle cx="1736.9" cy="494.2" r="6.5"/><circle cx="1727.4" cy="500.5" r="6.5"/><circle cx="1714.6" cy="505.9" r="6.5"/><circle cx="1695.6" cy="517.4" r="6.5"/><circle cx="1703.4" cy="515.5" r="6.5"/><circle cx="1615.1" cy="536.4" r="6.5"/><circle cx="1629.5" cy="540.7" r="6.5"/><circle cx="1624" cy="545.9" r="6.5"/><circle cx="1648" cy="560.3" r="6.5"/><circle cx="1653.4" cy="570.4" r="6.5"/><circle cx="1722.8" cy="543.5" r="6.5"/><circle cx="1726.8" cy="539.9" r="6.5"/><circle cx="1738.3" cy="536.4" r="6.5"/><circle cx="1711.1" cy="557.6" r="6.5"/><circle cx="1717.9" cy="569.8" r="6.5"/><circle cx="1707" cy="574.7" r="6.5"/><circle cx="1719.8" cy="584" r="6.5"/><circle cx="1692.6" cy="575.8" r="6.5"/><circle cx="1674.3" cy="577.5" r="6.5"/><circle cx="1621.9" cy="609.3" r="6.5"/><circle cx="1628.1" cy="615.5" r="6.5"/><circle cx="1642.5" cy="612" r="6.5"/><circle cx="1668.4" cy="618" r="6.5"/><circle cx="1677.1" cy="621.5" r="6.5"/><circle cx="1683.3" cy="610.1" r="6.5"/><circle cx="1705.1" cy="607.1" r="6.5"/><circle cx="1708.9" cy="601.7" r="6.5"/><circle cx="1713.2" cy="605.7" r="6.5"/><circle cx="1723.8" cy="603.8" r="6.5"/><circle cx="1735" cy="612.5" r="6.5"/><circle cx="1625.4" cy="636.5" r="6.5"/><circle cx="1634.9" cy="634.6" r="6.5"/><circle cx="1699.6" cy="627.5" r="6.5"/><circle cx="1729.3" cy="715.9" r="6.5"/><circle cx="1806.8" cy="353.1" r="6.5"/><circle cx="1792.4" cy="365.1" r="6.5"/><circle cx="1808.7" cy="383" r="6.5"/><circle cx="1767.9" cy="396.3" r="6.5"/><circle cx="1858.2" cy="395.8" r="6.5"/><circle cx="1868" cy="390.4" r="6.5"/><circle cx="1875.3" cy="385.7" r="6.5"/><circle cx="1869.9" cy="403.4" r="6.5"/><circle cx="1751.6" cy="428.4" r="6.5"/><circle cx="1782.3" cy="431.7" r="6.5"/><circle cx="1810.9" cy="435.2" r="6.5"/><circle cx="1816.3" cy="436.6" r="6.5"/><circle cx="1834.5" cy="421.1" r="6.5"/><circle cx="1836.4" cy="438.8" r="6.5"/><circle cx="1863.9" cy="440.1" r="6.5"/><circle cx="1856.8" cy="452.9" r="6.5"/><circle cx="1770.1" cy="461.1" r="6.5"/><circle cx="1830.5" cy="463.8" r="6.5"/><circle cx="1845.4" cy="465.7" r="6.5"/><circle cx="1825" cy="477.4" r="6.5"/><circle cx="1823.7" cy="490.4" r="6.5"/><circle cx="1793.7" cy="491" r="6.5"/><circle cx="1757" cy="494.2" r="6.5"/><circle cx="1764.4" cy="499.7" r="6.5"/><circle cx="1753" cy="508.1" r="6.5"/><circle cx="1812.8" cy="501.9" r="6.5"/><circle cx="1814.7" cy="505.9" r="6.5"/><circle cx="1784.2" cy="510.6" r="6.5"/><circle cx="1777.4" cy="516.8" r="6.5"/><circle cx="1803.3" cy="509.2" r="6.5"/><circle cx="1797.3" cy="512.7" r="6.5"/><circle cx="1800" cy="519.5" r="6.5"/><circle cx="1789.7" cy="520.1" r="6.5"/><circle cx="1832.6" cy="510.8" r="6.5"/><circle cx="1827.2" cy="517.6" r="6.5"/><circle cx="1849.5" cy="495.1" r="6.5"/><circle cx="1853.6" cy="495.1" r="6.5"/><circle cx="1758.4" cy="526.9" r="6.5"/><circle cx="1771.4" cy="526.3" r="6.5"/><circle cx="1786.4" cy="531" r="6.5"/><circle cx="1744" cy="533.9" r="6.5"/><circle cx="1766" cy="539.1" r="6.5"/><circle cx="1779.3" cy="539.9" r="6.5"/><circle cx="1781" cy="544" r="6.5"/><circle cx="1773.4" cy="551.6" r="6.5"/><circle cx="1817.7" cy="536.4" r="6.5"/><circle cx="1819.6" cy="551.6" r="6.5"/><circle cx="1846.8" cy="526.3" r="6.5"/><circle cx="1843.5" cy="533.1" r="6.5"/><circle cx="1854.9" cy="526.3" r="6.5"/><circle cx="1861.7" cy="528.2" r="6.5"/><circle cx="1851.4" cy="539.9" r="6.5"/><circle cx="1838.1" cy="551.6" r="6.5"/><circle cx="1841.9" cy="561.7" r="6.5"/><circle cx="1865.8" cy="564.4" r="6.5"/><circle cx="1749.4" cy="554.9" r="6.5"/><circle cx="1746.2" cy="569.8" r="6.5"/><circle cx="1795.7" cy="560.9" r="6.5"/><circle cx="1821.5" cy="574.7" r="6.5"/><circle cx="1829.1" cy="588.9" r="6.5"/><circle cx="1871.3" cy="600.3" r="6.5"/><circle cx="1775.5" cy="606.6" r="6.5"/><circle cx="1748.1" cy="614.7" r="6.5"/><circle cx="1762.5" cy="624.2" r="6.5"/><circle cx="1759.8" cy="628.3" r="6.5"/><circle cx="1754.9" cy="639.7" r="6.5"/><circle cx="1805.2" cy="616.6" r="6.5"/><circle cx="1840" cy="620.7" r="6.5"/><circle cx="1873.4" cy="627.8" r="6.5"/><circle cx="1862.3" cy="638.4" r="6.5"/><circle cx="1788.3" cy="741.2" r="6.5"/></g><rect x="250.0" y="197.25" width="1657.3" height="637.55" fill="none" stroke="#000" stroke-width="5.6" stroke-linejoin="miter"/><path d="M281.4 194.4v-16M281.4 837.6v16M325.7 194.4v-8M325.7 837.6v8M370.1 194.4v-8M370.1 837.6v8M414.4 194.4v-16M414.4 837.6v16M458.7 194.4v-8M458.7 837.6v8M503.1 194.4v-8M503.1 837.6v8M547.4 194.4v-16M547.4 837.6v16M591.7 194.4v-8M591.7 837.6v8M636.1 194.4v-8M636.1 837.6v8M680.4 194.4v-16M680.4 837.6v16M724.7 194.4v-8M724.7 837.6v8M769.1 194.4v-8M769.1 837.6v8M813.4 194.4v-16M813.4 837.6v16M857.7 194.4v-8M857.7 837.6v8M902.1 194.4v-8M902.1 837.6v8M946.4 194.4v-16M946.4 837.6v16M990.7 194.4v-8M990.7 837.6v8M1035.1 194.4v-8M1035.1 837.6v8M1079.4 194.4v-16M1079.4 837.6v16M1123.7 194.4v-8M1123.7 837.6v8M1168.1 194.4v-8M1168.1 837.6v8M1212.4 194.4v-16M1212.4 837.6v16M1256.7 194.4v-8M1256.7 837.6v8M1301.1 194.4v-8M1301.1 837.6v8M1345.4 194.4v-16M1345.4 837.6v16M1389.8 194.4v-8M1389.8 837.6v8M1434.1 194.4v-8M1434.1 837.6v8M1478.4 194.4v-16M1478.4 837.6v16M1522.8 194.4v-8M1522.8 837.6v8M1567.1 194.4v-8M1567.1 837.6v8M1611.4 194.4v-16M1611.4 837.6v16M1655.8 194.4v-8M1655.8 837.6v8M1700.1 194.4v-8M1700.1 837.6v8M1744.4 194.4v-16M1744.4 837.6v16M1788.8 194.4v-8M1788.8 837.6v8M1833.1 194.4v-8M1833.1 837.6v8M1877.4 194.4v-16M1877.4 837.6v16M247.2 283.8h-16M1910.1 283.8h16M247.2 391.4h-16M1910.1 391.4h16M247.2 499h-16M1910.1 499h16M247.2 606.6h-16M1910.1 606.6h16M247.2 714.2h-16M1910.1 714.2h16M247.2 821.8h-16M1910.1 821.8h16" stroke="#000" stroke-width="2.2" fill="none"/><g font-family="Liberation Sans" font-weight="bold" font-size="45" fill="#000"><text transform="translate(281.4 901.3) scale(0.966 1)" text-anchor="middle">0</text><text transform="translate(414.4 901.3) scale(0.966 1)" text-anchor="middle">6</text><text transform="translate(547.4 901.3) scale(0.966 1)" text-anchor="middle">12</text><text transform="translate(680.4 901.3) scale(0.966 1)" text-anchor="middle">18</text><text transform="translate(813.4 901.3) scale(0.966 1)" text-anchor="middle">24</text><text transform="translate(946.4 901.3) scale(0.966 1)" text-anchor="middle">30</text><text transform="translate(1079.4 901.3) scale(0.966 1)" text-anchor="middle">36</text><text transform="translate(1212.4 901.3) scale(0.966 1)" text-anchor="middle">42</text><text transform="translate(1345.4 901.3) scale(0.966 1)" text-anchor="middle">48</text><text transform="translate(1478.4 901.3) scale(0.966 1)" text-anchor="middle">54</text><text transform="translate(1611.4 901.3) scale(0.966 1)" text-anchor="middle">60</text><text transform="translate(1744.4 901.3) scale(0.966 1)" text-anchor="middle">66</text><text transform="translate(1877.4 901.3) scale(0.966 1)" text-anchor="middle">72</text><text transform="translate(214.2 299.7) scale(0.966 1)" text-anchor="end">30</text><text transform="translate(214.2 407.3) scale(0.966 1)" text-anchor="end">20</text><text transform="translate(214.2 514.9) scale(0.966 1)" text-anchor="end">10</text><text transform="translate(214.2 622.5) scale(0.966 1)" text-anchor="end">0</text><text transform="translate(214.2 730.1) scale(0.966 1)" text-anchor="end">−10</text><text transform="translate(214.2 837.7) scale(0.966 1)" text-anchor="end">−20</text></g><text transform="translate(114.0 516) rotate(-90) scale(0.94 1)" text-anchor="middle" font-family="Liberation Sans" font-size="45.06" fill="#000">East (mm)</text><g fill="#0000ff"><circle cx="307.1" cy="1147.9" r="6.5"/><circle cx="381.1" cy="1199" r="6.5"/><circle cx="390.6" cy="1203.6" r="6.5"/><circle cx="391.9" cy="1247.7" r="6.5"/><circle cx="309" cy="1258" r="6.5"/><circle cx="407.4" cy="1272.2" r="6.5"/><circle cx="321.8" cy="1283.3" r="6.5"/><circle cx="378.3" cy="1286.6" r="6.5"/><circle cx="383.8" cy="1288.5" r="6.5"/><circle cx="399.6" cy="1292" r="6.5"/><circle cx="369.6" cy="1300.7" r="6.5"/><circle cx="397.9" cy="1307" r="6.5"/><circle cx="337" cy="1307" r="6.5"/><circle cx="344.3" cy="1313.8" r="6.5"/><circle cx="316.3" cy="1311.6" r="6.5"/><circle cx="318" cy="1323.8" r="6.5"/><circle cx="298.1" cy="1317.3" r="6.5"/><circle cx="288.6" cy="1323.3" r="6.5"/><circle cx="305.5" cy="1330.1" r="6.5"/><circle cx="335.4" cy="1325.5" r="6.5"/><circle cx="331.3" cy="1333.6" r="6.5"/><circle cx="388.7" cy="1306.4" r="6.5"/><circle cx="385.1" cy="1320" r="6.5"/><circle cx="408.8" cy="1320.6" r="6.5"/><circle cx="281" cy="1341.8" r="6.5"/><circle cx="312.5" cy="1341.8" r="6.5"/><circle cx="310.4" cy="1351.9" r="6.5"/><circle cx="292.7" cy="1355.9" r="6.5"/><circle cx="375.6" cy="1339.6" r="6.5"/><circle cx="377.5" cy="1350.5" r="6.5"/><circle cx="405" cy="1345.1" r="6.5"/><circle cx="412.3" cy="1345.6" r="6.5"/><circle cx="302.7" cy="1367.6" r="6.5"/><circle cx="314.4" cy="1366.3" r="6.5"/><circle cx="299.5" cy="1375" r="6.5"/><circle cx="345.7" cy="1376.3" r="6.5"/><circle cx="328.8" cy="1385" r="6.5"/><circle cx="337.5" cy="1388.6" r="6.5"/><circle cx="324" cy="1397.3" r="6.5"/><circle cx="349.8" cy="1392.6" r="6.5"/><circle cx="358.8" cy="1400.8" r="6.5"/><circle cx="356.6" cy="1410.3" r="6.5"/><circle cx="368" cy="1385.3" r="6.5"/><circle cx="373.7" cy="1397.5" r="6.5"/><circle cx="396" cy="1411.7" r="6.5"/><circle cx="410.4" cy="1398.9" r="6.5"/><circle cx="286.7" cy="1425.3" r="6.5"/><circle cx="296.2" cy="1434" r="6.5"/><circle cx="290.5" cy="1447.8" r="6.5"/><circle cx="301.7" cy="1451.1" r="6.5"/><circle cx="294" cy="1466.6" r="6.5"/><circle cx="285.1" cy="1479.7" r="6.5"/><circle cx="327.2" cy="1446.5" r="6.5"/><circle cx="342.2" cy="1442.1" r="6.5"/><circle cx="339.7" cy="1447" r="6.5"/><circle cx="319.9" cy="1461.2" r="6.5"/><circle cx="325.3" cy="1476.9" r="6.5"/><circle cx="366.6" cy="1429.4" r="6.5"/><circle cx="362" cy="1440.8" r="6.5"/><circle cx="371.5" cy="1444.3" r="6.5"/><circle cx="386.5" cy="1430.7" r="6.5"/><circle cx="394.7" cy="1428.8" r="6.5"/><circle cx="402.8" cy="1437" r="6.5"/><circle cx="400.9" cy="1442.1" r="6.5"/><circle cx="347.1" cy="1475.6" r="6.5"/><circle cx="355.8" cy="1479.7" r="6.5"/><circle cx="351.7" cy="1491.4" r="6.5"/><circle cx="332.9" cy="1505.8" r="6.5"/><circle cx="360.7" cy="1515.8" r="6.5"/><circle cx="364.7" cy="1615.4" r="6.5"/><circle cx="353.3" cy="1637.1" r="6.5"/><circle cx="495.6" cy="1109.8" r="6.5"/><circle cx="526.8" cy="1150.1" r="6.5"/><circle cx="534.5" cy="1156.1" r="6.5"/><circle cx="486.3" cy="1172.4" r="6.5"/><circle cx="501" cy="1194.9" r="6.5"/><circle cx="428.9" cy="1196.8" r="6.5"/><circle cx="434.7" cy="1193.6" r="6.5"/><circle cx="427" cy="1224.6" r="6.5"/><circle cx="449.3" cy="1217.2" r="6.5"/><circle cx="447.4" cy="1231.7" r="6.5"/><circle cx="540.4" cy="1225.4" r="6.5"/><circle cx="425.7" cy="1240.4" r="6.5"/><circle cx="421.6" cy="1249.9" r="6.5"/><circle cx="436.6" cy="1248" r="6.5"/><circle cx="423.5" cy="1264.8" r="6.5"/><circle cx="431.1" cy="1277.9" r="6.5"/><circle cx="465.9" cy="1260.8" r="6.5"/><circle cx="464.3" cy="1270.3" r="6.5"/><circle cx="488.2" cy="1277.9" r="6.5"/><circle cx="508.6" cy="1261.3" r="6.5"/><circle cx="520.9" cy="1254" r="6.5"/><circle cx="527.1" cy="1256.7" r="6.5"/><circle cx="532.6" cy="1262.7" r="6.5"/><circle cx="541.8" cy="1253.1" r="6.5"/><circle cx="514.1" cy="1286.6" r="6.5"/><circle cx="516" cy="1293.4" r="6.5"/><circle cx="529.6" cy="1294.2" r="6.5"/><circle cx="418.1" cy="1304.8" r="6.5"/><circle cx="471.4" cy="1300.7" r="6.5"/><circle cx="482.8" cy="1312.4" r="6.5"/><circle cx="491.8" cy="1322.8" r="6.5"/><circle cx="479.2" cy="1337.4" r="6.5"/><circle cx="512.2" cy="1328.2" r="6.5"/><circle cx="543.4" cy="1319.8" r="6.5"/><circle cx="452.9" cy="1347.8" r="6.5"/><circle cx="450.7" cy="1352.4" r="6.5"/><circle cx="545.3" cy="1351.9" r="6.5"/><circle cx="499.1" cy="1358.7" r="6.5"/><circle cx="506.4" cy="1364.1" r="6.5"/><circle cx="517.3" cy="1375.5" r="6.5"/><circle cx="523.6" cy="1376.9" r="6.5"/><circle cx="432.5" cy="1387.7" r="6.5"/><circle cx="467.8" cy="1383.1" r="6.5"/><circle cx="476" cy="1380.4" r="6.5"/><circle cx="485" cy="1376.3" r="6.5"/><circle cx="489" cy="1383.1" r="6.5"/><circle cx="494.5" cy="1383.9" r="6.5"/><circle cx="503.2" cy="1393.5" r="6.5"/><circle cx="536.4" cy="1396.2" r="6.5"/><circle cx="414" cy="1407.6" r="6.5"/><circle cx="470" cy="1402.2" r="6.5"/><circle cx="477.3" cy="1406.2" r="6.5"/><circle cx="473.3" cy="1419.3" r="6.5"/><circle cx="519.5" cy="1420.4" r="6.5"/><circle cx="538" cy="1417.7" r="6.5"/><circle cx="416.2" cy="1430.7" r="6.5"/><circle cx="442.8" cy="1428.8" r="6.5"/><circle cx="446.1" cy="1426.1" r="6.5"/><circle cx="458.3" cy="1423.9" r="6.5"/><circle cx="480.9" cy="1438.1" r="6.5"/><circle cx="454.8" cy="1440.8" r="6.5"/><circle cx="458.3" cy="1447" r="6.5"/><circle cx="462.4" cy="1454.4" r="6.5"/><circle cx="440.1" cy="1447.6" r="6.5"/><circle cx="497.2" cy="1465.3" r="6.5"/><circle cx="510.5" cy="1462.5" r="6.5"/><circle cx="443.9" cy="1477.5" r="6.5"/><circle cx="505.1" cy="1491.9" r="6.5"/><circle cx="419.7" cy="1512" r="6.5"/><circle cx="438.5" cy="1534.3" r="6.5"/><circle cx="656.6" cy="1149.3" r="6.5"/><circle cx="649" cy="1234.1" r="6.5"/><circle cx="570.9" cy="1248" r="6.5"/><circle cx="576.4" cy="1255.3" r="6.5"/><circle cx="617.7" cy="1256.1" r="6.5"/><circle cx="558.1" cy="1268.4" r="6.5"/><circle cx="573.1" cy="1271.1" r="6.5"/><circle cx="604.4" cy="1268.9" r="6.5"/><circle cx="598.7" cy="1279.8" r="6.5"/><circle cx="606.3" cy="1279.2" r="6.5"/><circle cx="600.8" cy="1286.6" r="6.5"/><circle cx="589.4" cy="1289.8" r="6.5"/><circle cx="547" cy="1286" r="6.5"/><circle cx="554.6" cy="1286" r="6.5"/><circle cx="549.2" cy="1296.1" r="6.5"/><circle cx="552.7" cy="1301.5" r="6.5"/><circle cx="647.1" cy="1289.8" r="6.5"/><circle cx="668.3" cy="1288.8" r="6.5"/><circle cx="678.3" cy="1283" r="6.5"/><circle cx="578.5" cy="1311.1" r="6.5"/><circle cx="610.3" cy="1308.3" r="6.5"/><circle cx="619.3" cy="1317" r="6.5"/><circle cx="641.1" cy="1325.5" r="6.5"/><circle cx="651.1" cy="1325.5" r="6.5"/><circle cx="661.5" cy="1324.7" r="6.5"/><circle cx="672.9" cy="1319.2" r="6.5"/><circle cx="584" cy="1333.6" r="6.5"/><circle cx="560" cy="1340.2" r="6.5"/><circle cx="564.9" cy="1341" r="6.5"/><circle cx="597.3" cy="1341.5" r="6.5"/><circle cx="565.5" cy="1355.9" r="6.5"/><circle cx="591.3" cy="1354.6" r="6.5"/><circle cx="654.4" cy="1340.2" r="6.5"/><circle cx="665.6" cy="1354" r="6.5"/><circle cx="585.9" cy="1369.5" r="6.5"/><circle cx="580.4" cy="1379.9" r="6.5"/><circle cx="595.4" cy="1380.4" r="6.5"/><circle cx="551.1" cy="1381.8" r="6.5"/><circle cx="567.7" cy="1396.2" r="6.5"/><circle cx="575" cy="1401.3" r="6.5"/><circle cx="593.5" cy="1407.6" r="6.5"/><circle cx="603" cy="1398.9" r="6.5"/><circle cx="612.2" cy="1395.4" r="6.5"/><circle cx="608.4" cy="1399.4" r="6.5"/><circle cx="615.8" cy="1382.6" r="6.5"/><circle cx="622.6" cy="1392.1" r="6.5"/><circle cx="628" cy="1369.5" r="6.5"/><circle cx="631.3" cy="1378.5" r="6.5"/><circle cx="633.5" cy="1392.1" r="6.5"/><circle cx="643" cy="1381.2" r="6.5"/><circle cx="652.5" cy="1370.9" r="6.5"/><circle cx="663.9" cy="1371.4" r="6.5"/><circle cx="667.5" cy="1378.5" r="6.5"/><circle cx="676.2" cy="1380.4" r="6.5"/><circle cx="621.2" cy="1409" r="6.5"/><circle cx="626.7" cy="1419.8" r="6.5"/><circle cx="624.5" cy="1427.2" r="6.5"/><circle cx="582.3" cy="1426.6" r="6.5"/><circle cx="657.9" cy="1423.9" r="6.5"/><circle cx="674.3" cy="1416.6" r="6.5"/><circle cx="637.5" cy="1447" r="6.5"/><circle cx="635.6" cy="1454.4" r="6.5"/><circle cx="639.4" cy="1468.8" r="6.5"/><circle cx="645.7" cy="1469.6" r="6.5"/><circle cx="569.6" cy="1465.3" r="6.5"/><circle cx="562.2" cy="1485.1" r="6.5"/><circle cx="588" cy="1486.5" r="6.5"/><circle cx="556.5" cy="1508.2" r="6.5"/><circle cx="613.6" cy="1508.8" r="6.5"/><circle cx="659.8" cy="1523.7" r="6.5"/><circle cx="756.1" cy="1117.2" r="6.5"/><circle cx="698.5" cy="1158" r="6.5"/><circle cx="754.2" cy="1173.2" r="6.5"/><circle cx="702.6" cy="1195.5" r="6.5"/><circle cx="697.1" cy="1211.8" r="6.5"/><circle cx="743.3" cy="1234.9" r="6.5"/><circle cx="739.3" cy="1245" r="6.5"/><circle cx="776.5" cy="1239.5" r="6.5"/><circle cx="783.6" cy="1249.1" r="6.5"/><circle cx="790.9" cy="1253.1" r="6.5"/><circle cx="731.9" cy="1261.6" r="6.5"/><circle cx="748.8" cy="1270.3" r="6.5"/><circle cx="785.5" cy="1274.9" r="6.5"/><circle cx="811.3" cy="1268.9" r="6.5"/><circle cx="680" cy="1295.3" r="6.5"/><circle cx="691.1" cy="1289.3" r="6.5"/><circle cx="689.5" cy="1308.3" r="6.5"/><circle cx="725.7" cy="1283.9" r="6.5"/><circle cx="738.5" cy="1280.6" r="6.5"/><circle cx="734.4" cy="1282.5" r="6.5"/><circle cx="728.4" cy="1293.4" r="6.5"/><circle cx="730.3" cy="1301" r="6.5"/><circle cx="750.7" cy="1298.8" r="6.5"/><circle cx="763.2" cy="1290.1" r="6.5"/><circle cx="770.5" cy="1285.2" r="6.5"/><circle cx="794.5" cy="1298.8" r="6.5"/><circle cx="805.9" cy="1293.4" r="6.5"/><circle cx="810" cy="1296.1" r="6.5"/><circle cx="709.4" cy="1321.9" r="6.5"/><circle cx="718.9" cy="1328.2" r="6.5"/><circle cx="746.9" cy="1318.7" r="6.5"/><circle cx="774.6" cy="1317.3" r="6.5"/><circle cx="787.4" cy="1330.9" r="6.5"/><circle cx="694.4" cy="1347" r="6.5"/><circle cx="700.7" cy="1351" r="6.5"/><circle cx="714.2" cy="1360.8" r="6.5"/><circle cx="723" cy="1364.6" r="6.5"/><circle cx="708" cy="1370.9" r="6.5"/><circle cx="717" cy="1378.5" r="6.5"/><circle cx="724.9" cy="1376.9" r="6.5"/><circle cx="745.2" cy="1350.5" r="6.5"/><circle cx="752.3" cy="1343.7" r="6.5"/><circle cx="761.6" cy="1348.3" r="6.5"/><circle cx="741.2" cy="1360.8" r="6.5"/><circle cx="792.8" cy="1346.4" r="6.5"/><circle cx="798.6" cy="1357.3" r="6.5"/><circle cx="782" cy="1370.9" r="6.5"/><circle cx="789.6" cy="1367.6" r="6.5"/><circle cx="684.1" cy="1376.3" r="6.5"/><circle cx="685.7" cy="1389.9" r="6.5"/><circle cx="706.1" cy="1402.2" r="6.5"/><circle cx="693" cy="1401.6" r="6.5"/><circle cx="711.5" cy="1410.3" r="6.5"/><circle cx="704.5" cy="1432.1" r="6.5"/><circle cx="735.7" cy="1398.1" r="6.5"/><circle cx="765.1" cy="1383.9" r="6.5"/><circle cx="759.7" cy="1393.2" r="6.5"/><circle cx="772.4" cy="1390.5" r="6.5"/><circle cx="780.1" cy="1387.7" r="6.5"/><circle cx="802.4" cy="1387.7" r="6.5"/><circle cx="757.5" cy="1439.4" r="6.5"/><circle cx="768.6" cy="1440.2" r="6.5"/><circle cx="796.4" cy="1434.8" r="6.5"/><circle cx="801.3" cy="1432.1" r="6.5"/><circle cx="682.2" cy="1453" r="6.5"/><circle cx="687.6" cy="1461.2" r="6.5"/><circle cx="715.3" cy="1459.8" r="6.5"/><circle cx="778.2" cy="1457.9" r="6.5"/><circle cx="804" cy="1466.9" r="6.5"/><circle cx="767.3" cy="1485.6" r="6.5"/><circle cx="720.8" cy="1512.3" r="6.5"/><circle cx="807.8" cy="1558.8" r="6.5"/><circle cx="837.5" cy="1071.7" r="6.5"/><circle cx="911.2" cy="1118" r="6.5"/><circle cx="820.6" cy="1156.1" r="6.5"/><circle cx="920.4" cy="1181.1" r="6.5"/><circle cx="892.7" cy="1224" r="6.5"/><circle cx="813" cy="1233.6" r="6.5"/><circle cx="830.1" cy="1234.1" r="6.5"/><circle cx="913.1" cy="1235.7" r="6.5"/><circle cx="879.9" cy="1263.5" r="6.5"/><circle cx="915" cy="1260.8" r="6.5"/><circle cx="937.5" cy="1270.3" r="6.5"/><circle cx="927.5" cy="1274.9" r="6.5"/><circle cx="922.6" cy="1280.3" r="6.5"/><circle cx="818.7" cy="1282" r="6.5"/><circle cx="900" cy="1292" r="6.5"/><circle cx="916.6" cy="1292" r="6.5"/><circle cx="925.8" cy="1289.3" r="6.5"/><circle cx="929.4" cy="1298.8" r="6.5"/><circle cx="909.5" cy="1305.6" r="6.5"/><circle cx="907.6" cy="1317.3" r="6.5"/><circle cx="903.5" cy="1329.6" r="6.5"/><circle cx="874.4" cy="1311.9" r="6.5"/><circle cx="866.8" cy="1327.4" r="6.5"/><circle cx="885.9" cy="1326.8" r="6.5"/><circle cx="889.1" cy="1325.2" r="6.5"/><circle cx="930.7" cy="1326" r="6.5"/><circle cx="939.4" cy="1329.6" r="6.5"/><circle cx="944.3" cy="1338.3" r="6.5"/><circle cx="824.1" cy="1339.1" r="6.5"/><circle cx="826.6" cy="1348.3" r="6.5"/><circle cx="846.4" cy="1345.9" r="6.5"/><circle cx="861.4" cy="1351.3" r="6.5"/><circle cx="851.9" cy="1360" r="6.5"/><circle cx="918.5" cy="1348.3" r="6.5"/><circle cx="940.8" cy="1351.9" r="6.5"/><circle cx="856" cy="1372.2" r="6.5"/><circle cx="842.4" cy="1377.1" r="6.5"/><circle cx="869" cy="1379.6" r="6.5"/><circle cx="881" cy="1370.3" r="6.5"/><circle cx="885.3" cy="1385.8" r="6.5"/><circle cx="877.7" cy="1394.8" r="6.5"/><circle cx="900.3" cy="1383.1" r="6.5"/><circle cx="905.4" cy="1375.8" r="6.5"/><circle cx="902.2" cy="1391.3" r="6.5"/><circle cx="896.7" cy="1400.8" r="6.5"/><circle cx="924.5" cy="1387.2" r="6.5"/><circle cx="839.1" cy="1387.2" r="6.5"/><circle cx="828.2" cy="1392.6" r="6.5"/><circle cx="835.6" cy="1395.4" r="6.5"/><circle cx="815.2" cy="1402.2" r="6.5"/><circle cx="822.5" cy="1407.6" r="6.5"/><circle cx="853.2" cy="1402.2" r="6.5"/><circle cx="844.5" cy="1410.3" r="6.5"/><circle cx="942.4" cy="1401.6" r="6.5"/><circle cx="848.3" cy="1423.1" r="6.5"/><circle cx="850" cy="1429.4" r="6.5"/><circle cx="858.7" cy="1439.4" r="6.5"/><circle cx="870.9" cy="1438.9" r="6.5"/><circle cx="863.6" cy="1444.3" r="6.5"/><circle cx="872.3" cy="1456" r="6.5"/><circle cx="894.6" cy="1449.8" r="6.5"/><circle cx="890.8" cy="1462" r="6.5"/><circle cx="933.5" cy="1422.6" r="6.5"/><circle cx="817.1" cy="1475.6" r="6.5"/><circle cx="876.3" cy="1474.8" r="6.5"/><circle cx="883.7" cy="1498.2" r="6.5"/><circle cx="857.3" cy="1503.3" r="6.5"/><circle cx="839.1" cy="1509.6" r="6.5"/><circle cx="833.4" cy="1572.9" r="6.5"/><circle cx="1025.7" cy="1129.7" r="6.5"/><circle cx="961.2" cy="1175.1" r="6.5"/><circle cx="979.4" cy="1169.6" r="6.5"/><circle cx="1073.3" cy="1170.2" r="6.5"/><circle cx="1031.1" cy="1190.6" r="6.5"/><circle cx="1044.2" cy="1206.9" r="6.5"/><circle cx="977.5" cy="1224.6" r="6.5"/><circle cx="966.7" cy="1228.1" r="6.5"/><circle cx="953.6" cy="1234.9" r="6.5"/><circle cx="959.6" cy="1237.6" r="6.5"/><circle cx="956.3" cy="1251.2" r="6.5"/><circle cx="1018.9" cy="1234.4" r="6.5"/><circle cx="1010.7" cy="1241.2" r="6.5"/><circle cx="1064.6" cy="1232.2" r="6.5"/><circle cx="1049.6" cy="1255.3" r="6.5"/><circle cx="1057.5" cy="1253.1" r="6.5"/><circle cx="964.5" cy="1264.8" r="6.5"/><circle cx="1071.9" cy="1267.5" r="6.5"/><circle cx="1005.3" cy="1272.2" r="6.5"/><circle cx="996.3" cy="1278.4" r="6.5"/><circle cx="981.3" cy="1289.3" r="6.5"/><circle cx="1060.5" cy="1304.3" r="6.5"/><circle cx="1001.7" cy="1313" r="6.5"/><circle cx="1048" cy="1316" r="6.5"/><circle cx="1042.5" cy="1326" r="6.5"/><circle cx="950.9" cy="1332.8" r="6.5"/><circle cx="963.1" cy="1330.9" r="6.5"/><circle cx="983" cy="1332.8" r="6.5"/><circle cx="984.9" cy="1343.7" r="6.5"/><circle cx="994.4" cy="1331.5" r="6.5"/><circle cx="1012.9" cy="1348.3" r="6.5"/><circle cx="1038.4" cy="1340.4" r="6.5"/><circle cx="1051.5" cy="1332.8" r="6.5"/><circle cx="1053.7" cy="1340.2" r="6.5"/><circle cx="1058.8" cy="1330.1" r="6.5"/><circle cx="1070" cy="1329.3" r="6.5"/><circle cx="1055.6" cy="1352.4" r="6.5"/><circle cx="1020.2" cy="1359.2" r="6.5"/><circle cx="1016.1" cy="1369.5" r="6.5"/><circle cx="1009.3" cy="1373.6" r="6.5"/><circle cx="972.1" cy="1370.9" r="6.5"/><circle cx="986.8" cy="1374.2" r="6.5"/><circle cx="989" cy="1387.2" r="6.5"/><circle cx="990.9" cy="1391.3" r="6.5"/><circle cx="992.5" cy="1399.4" r="6.5"/><circle cx="1046.1" cy="1369.5" r="6.5"/><circle cx="1066.5" cy="1376.9" r="6.5"/><circle cx="1076" cy="1381.8" r="6.5"/><circle cx="948.2" cy="1389.9" r="6.5"/><circle cx="1014" cy="1395.9" r="6.5"/><circle cx="1023.5" cy="1391.3" r="6.5"/><circle cx="1028.4" cy="1394" r="6.5"/><circle cx="1033.8" cy="1398.9" r="6.5"/><circle cx="1062.4" cy="1395.4" r="6.5"/><circle cx="970.5" cy="1409" r="6.5"/><circle cx="997.9" cy="1410.3" r="6.5"/><circle cx="1021.6" cy="1415.2" r="6.5"/><circle cx="950.1" cy="1422.6" r="6.5"/><circle cx="999.8" cy="1428.8" r="6.5"/><circle cx="1040.1" cy="1428.5" r="6.5"/><circle cx="1067.8" cy="1426.6" r="6.5"/><circle cx="968.6" cy="1461.2" r="6.5"/><circle cx="974" cy="1476.9" r="6.5"/><circle cx="1007.4" cy="1460.6" r="6.5"/><circle cx="1029.2" cy="1453.8" r="6.5"/><circle cx="1036.5" cy="1466.9" r="6.5"/><circle cx="946.3" cy="1487.8" r="6.5"/><circle cx="975.9" cy="1523.7" r="6.5"/><circle cx="1003.4" cy="1517.7" r="6.5"/><circle cx="1034.6" cy="1523.2" r="6.5"/><circle cx="1140.2" cy="1143.8" r="6.5"/><circle cx="1090.1" cy="1189.2" r="6.5"/><circle cx="1147.2" cy="1228.7" r="6.5"/><circle cx="1179.1" cy="1217.8" r="6.5"/><circle cx="1200.8" cy="1215.9" r="6.5"/><circle cx="1185.9" cy="1228.7" r="6.5"/><circle cx="1181" cy="1236.3" r="6.5"/><circle cx="1094.2" cy="1265.6" r="6.5"/><circle cx="1102.9" cy="1273" r="6.5"/><circle cx="1152.7" cy="1272.2" r="6.5"/><circle cx="1136.4" cy="1277.6" r="6.5"/><circle cx="1079" cy="1288.8" r="6.5"/><circle cx="1088.5" cy="1284.7" r="6.5"/><circle cx="1107" cy="1296.6" r="6.5"/><circle cx="1177.2" cy="1284.7" r="6.5"/><circle cx="1170.9" cy="1291.2" r="6.5"/><circle cx="1203" cy="1299.4" r="6.5"/><circle cx="1198.1" cy="1305.6" r="6.5"/><circle cx="1192.7" cy="1310.2" r="6.5"/><circle cx="1095.6" cy="1317.3" r="6.5"/><circle cx="1101.6" cy="1316" r="6.5"/><circle cx="1109.2" cy="1319.2" r="6.5"/><circle cx="1113.8" cy="1311.1" r="6.5"/><circle cx="1120.6" cy="1312.4" r="6.5"/><circle cx="1125.2" cy="1321.9" r="6.5"/><circle cx="1127.4" cy="1331.5" r="6.5"/><circle cx="1116" cy="1328.7" r="6.5"/><circle cx="1084.4" cy="1326" r="6.5"/><circle cx="1130.7" cy="1341" r="6.5"/><circle cx="1138.3" cy="1349.9" r="6.5"/><circle cx="1131.5" cy="1353.2" r="6.5"/><circle cx="1122.8" cy="1355.9" r="6.5"/><circle cx="1083.1" cy="1350.5" r="6.5"/><circle cx="1086.6" cy="1361.4" r="6.5"/><circle cx="1173.6" cy="1335.5" r="6.5"/><circle cx="1184.5" cy="1337.7" r="6.5"/><circle cx="1197.6" cy="1328.7" r="6.5"/><circle cx="1210.3" cy="1340.2" r="6.5"/><circle cx="1209" cy="1352.4" r="6.5"/><circle cx="1162.2" cy="1354" r="6.5"/><circle cx="1166.3" cy="1357.3" r="6.5"/><circle cx="1167.6" cy="1362.7" r="6.5"/><circle cx="1158.7" cy="1370.9" r="6.5"/><circle cx="1188.6" cy="1366.8" r="6.5"/><circle cx="1191.8" cy="1364.1" r="6.5"/><circle cx="1105.1" cy="1376.3" r="6.5"/><circle cx="1110.5" cy="1374.4" r="6.5"/><circle cx="1081.2" cy="1402.1" r="6.5"/><circle cx="1121.4" cy="1395.9" r="6.5"/><circle cx="1134.7" cy="1395.9" r="6.5"/><circle cx="1145.9" cy="1391.3" r="6.5"/><circle cx="1151.3" cy="1386.4" r="6.5"/><circle cx="1155.4" cy="1392.6" r="6.5"/><circle cx="1164.1" cy="1382.3" r="6.5"/><circle cx="1170.1" cy="1388.6" r="6.5"/><circle cx="1182.6" cy="1385" r="6.5"/><circle cx="1195.4" cy="1407.6" r="6.5"/><circle cx="1204.9" cy="1402.2" r="6.5"/><circle cx="1142.3" cy="1418.5" r="6.5"/><circle cx="1156.8" cy="1422.6" r="6.5"/><circle cx="1175.5" cy="1429.9" r="6.5"/><circle cx="1092" cy="1442.1" r="6.5"/><circle cx="1112.4" cy="1445.7" r="6.5"/><circle cx="1097.5" cy="1457.9" r="6.5"/><circle cx="1117.9" cy="1463.3" r="6.5"/><circle cx="1149.7" cy="1465.3" r="6.5"/><circle cx="1160.6" cy="1456.6" r="6.5"/><circle cx="1206.3" cy="1459.8" r="6.5"/><circle cx="1132.8" cy="1497.9" r="6.5"/><circle cx="1099.4" cy="1525.9" r="6.5"/><circle cx="1144.2" cy="1532.7" r="6.5"/><circle cx="1190.5" cy="1542.8" r="6.5"/><circle cx="1230.5" cy="1049.4" r="6.5"/><circle cx="1343.3" cy="1055.4" r="6.5"/><circle cx="1227.2" cy="1084.8" r="6.5"/><circle cx="1322.9" cy="1106.3" r="6.5"/><circle cx="1228.6" cy="1144.6" r="6.5"/><circle cx="1284" cy="1162.9" r="6.5"/><circle cx="1293" cy="1178.4" r="6.5"/><circle cx="1315.3" cy="1176.4" r="6.5"/><circle cx="1329.7" cy="1186.5" r="6.5"/><circle cx="1336" cy="1190" r="6.5"/><circle cx="1285.7" cy="1221.3" r="6.5"/><circle cx="1259.8" cy="1236.8" r="6.5"/><circle cx="1221.5" cy="1244.4" r="6.5"/><circle cx="1243.5" cy="1253.1" r="6.5"/><circle cx="1304.4" cy="1250.7" r="6.5"/><circle cx="1328.4" cy="1254.5" r="6.5"/><circle cx="1269.9" cy="1267.5" r="6.5"/><circle cx="1277.2" cy="1266.7" r="6.5"/><circle cx="1287.6" cy="1275.2" r="6.5"/><circle cx="1262.3" cy="1294.2" r="6.5"/><circle cx="1289.5" cy="1310.2" r="6.5"/><circle cx="1300.6" cy="1311.1" r="6.5"/><circle cx="1311.5" cy="1307.5" r="6.5"/><circle cx="1314.2" cy="1314.3" r="6.5"/><circle cx="1321" cy="1323.3" r="6.5"/><circle cx="1341.4" cy="1316.5" r="6.5"/><circle cx="1232.4" cy="1318.4" r="6.5"/><circle cx="1263.9" cy="1321.1" r="6.5"/><circle cx="1273.2" cy="1332.8" r="6.5"/><circle cx="1278.6" cy="1345.1" r="6.5"/><circle cx="1241.4" cy="1339.1" r="6.5"/><circle cx="1256.3" cy="1351" r="6.5"/><circle cx="1306.1" cy="1345.6" r="6.5"/><circle cx="1337.9" cy="1338.3" r="6.5"/><circle cx="1331.9" cy="1350.5" r="6.5"/><circle cx="1318.9" cy="1357.8" r="6.5"/><circle cx="1325.1" cy="1359.2" r="6.5"/><circle cx="1212" cy="1369" r="6.5"/><circle cx="1249" cy="1372.2" r="6.5"/><circle cx="1258.2" cy="1377.7" r="6.5"/><circle cx="1268" cy="1383.7" r="6.5"/><circle cx="1265.3" cy="1387.7" r="6.5"/><circle cx="1225" cy="1381.8" r="6.5"/><circle cx="1219.1" cy="1391.3" r="6.5"/><circle cx="1235.9" cy="1385" r="6.5"/><circle cx="1245.4" cy="1390.5" r="6.5"/><circle cx="1334.4" cy="1375" r="6.5"/><circle cx="1326.5" cy="1384.5" r="6.5"/><circle cx="1339.3" cy="1397.5" r="6.5"/><circle cx="1247.3" cy="1405.4" r="6.5"/><circle cx="1271.3" cy="1407.6" r="6.5"/><circle cx="1295.2" cy="1406.2" r="6.5"/><circle cx="1309.9" cy="1410.3" r="6.5"/><circle cx="1215.5" cy="1415.8" r="6.5"/><circle cx="1223.1" cy="1416.3" r="6.5"/><circle cx="1291.7" cy="1425.3" r="6.5"/><circle cx="1283" cy="1431.3" r="6.5"/><circle cx="1280.2" cy="1438.1" r="6.5"/><circle cx="1299" cy="1434.8" r="6.5"/><circle cx="1317" cy="1425.8" r="6.5"/><circle cx="1252.8" cy="1445.7" r="6.5"/><circle cx="1238.1" cy="1455.7" r="6.5"/><circle cx="1240" cy="1468" r="6.5"/><circle cx="1250.9" cy="1483.7" r="6.5"/><circle cx="1255" cy="1486.5" r="6.5"/><circle cx="1274.8" cy="1482.9" r="6.5"/><circle cx="1302.5" cy="1485.6" r="6.5"/><circle cx="1308.5" cy="1492.4" r="6.5"/><circle cx="1217.7" cy="1504.9" r="6.5"/><circle cx="1234" cy="1522.3" r="6.5"/><circle cx="1297.1" cy="1551.2" r="6.5"/><circle cx="1452.4" cy="1196.8" r="6.5"/><circle cx="1368.9" cy="1238.2" r="6.5"/><circle cx="1367" cy="1254" r="6.5"/><circle cx="1352.6" cy="1257.5" r="6.5"/><circle cx="1350.4" cy="1266.2" r="6.5"/><circle cx="1404.3" cy="1262.1" r="6.5"/><circle cx="1450" cy="1263.5" r="6.5"/><circle cx="1455.9" cy="1267.5" r="6.5"/><circle cx="1461.4" cy="1262.9" r="6.5"/><circle cx="1466.8" cy="1269.7" r="6.5"/><circle cx="1441" cy="1287.4" r="6.5"/><circle cx="1449.1" cy="1287.9" r="6.5"/><circle cx="1454" cy="1306.4" r="6.5"/><circle cx="1464.6" cy="1304.3" r="6.5"/><circle cx="1474.4" cy="1300.7" r="6.5"/><circle cx="1469" cy="1313.8" r="6.5"/><circle cx="1442.9" cy="1323.3" r="6.5"/><circle cx="1347.2" cy="1339.1" r="6.5"/><circle cx="1356.1" cy="1331.5" r="6.5"/><circle cx="1360.2" cy="1338.3" r="6.5"/><circle cx="1348.5" cy="1348.3" r="6.5"/><circle cx="1383.9" cy="1332.8" r="6.5"/><circle cx="1381.2" cy="1340.4" r="6.5"/><circle cx="1373" cy="1345.9" r="6.5"/><circle cx="1398.3" cy="1340.2" r="6.5"/><circle cx="1410.2" cy="1347.2" r="6.5"/><circle cx="1416.5" cy="1346.4" r="6.5"/><circle cx="1422.8" cy="1347" r="6.5"/><circle cx="1460" cy="1339.1" r="6.5"/><circle cx="1470.9" cy="1348.3" r="6.5"/><circle cx="1445.1" cy="1351.9" r="6.5"/><circle cx="1457.8" cy="1351.9" r="6.5"/><circle cx="1447" cy="1366" r="6.5"/><circle cx="1391.2" cy="1366.3" r="6.5"/><circle cx="1374.4" cy="1387.7" r="6.5"/><circle cx="1380.3" cy="1389.1" r="6.5"/><circle cx="1396.9" cy="1392.1" r="6.5"/><circle cx="1370.8" cy="1400.3" r="6.5"/><circle cx="1377.1" cy="1404.9" r="6.5"/><circle cx="1388" cy="1412.2" r="6.5"/><circle cx="1405.6" cy="1402.2" r="6.5"/><circle cx="1411.9" cy="1402.2" r="6.5"/><circle cx="1439.6" cy="1398.9" r="6.5"/><circle cx="1432" cy="1410.9" r="6.5"/><circle cx="1361.6" cy="1428" r="6.5"/><circle cx="1385.8" cy="1428" r="6.5"/><circle cx="1389.9" cy="1430.7" r="6.5"/><circle cx="1402.4" cy="1423.9" r="6.5"/><circle cx="1418.7" cy="1423.4" r="6.5"/><circle cx="1417" cy="1432.1" r="6.5"/><circle cx="1476.3" cy="1415.8" r="6.5"/><circle cx="1354.5" cy="1449.8" r="6.5"/><circle cx="1365.4" cy="1460.6" r="6.5"/><circle cx="1358" cy="1467.4" r="6.5"/><circle cx="1363.5" cy="1472.9" r="6.5"/><circle cx="1430.1" cy="1447" r="6.5"/><circle cx="1433.6" cy="1457.1" r="6.5"/><circle cx="1420.6" cy="1462.5" r="6.5"/><circle cx="1463.3" cy="1457.9" r="6.5"/><circle cx="1472.3" cy="1470.1" r="6.5"/><circle cx="1392.8" cy="1473.4" r="6.5"/><circle cx="1400.7" cy="1479.7" r="6.5"/><circle cx="1437.4" cy="1482.4" r="6.5"/><circle cx="1424.7" cy="1489.7" r="6.5"/><circle cx="1435.5" cy="1498.7" r="6.5"/><circle cx="1395.3" cy="1513.7" r="6.5"/><circle cx="1407.8" cy="1514.2" r="6.5"/><circle cx="1426" cy="1529.9" r="6.5"/><circle cx="1428.2" cy="1535.9" r="6.5"/><circle cx="1345" cy="1530.5" r="6.5"/><circle cx="1413.2" cy="1568.8" r="6.5"/><circle cx="1555.8" cy="1025.5" r="6.5"/><circle cx="1535.4" cy="1082.6" r="6.5"/><circle cx="1485.1" cy="1152" r="6.5"/><circle cx="1491.6" cy="1151.2" r="6.5"/><circle cx="1586.8" cy="1152" r="6.5"/><circle cx="1489.1" cy="1171" r="6.5"/><circle cx="1511.4" cy="1166.1" r="6.5"/><circle cx="1487.5" cy="1211.3" r="6.5"/><circle cx="1507.4" cy="1204.2" r="6.5"/><circle cx="1510.1" cy="1202.3" r="6.5"/><circle cx="1529.7" cy="1209.1" r="6.5"/><circle cx="1546.2" cy="1200.4" r="6.5"/><circle cx="1588.9" cy="1220" r="6.5"/><circle cx="1533.7" cy="1239.5" r="6.5"/><circle cx="1496.5" cy="1246.6" r="6.5"/><circle cx="1561.2" cy="1249.1" r="6.5"/><circle cx="1578.1" cy="1243.9" r="6.5"/><circle cx="1580" cy="1252.6" r="6.5"/><circle cx="1483.7" cy="1264" r="6.5"/><circle cx="1524.2" cy="1264.8" r="6.5"/><circle cx="1526.4" cy="1271.6" r="6.5"/><circle cx="1531.8" cy="1279.8" r="6.5"/><circle cx="1568.5" cy="1264" r="6.5"/><circle cx="1574" cy="1278.4" r="6.5"/><circle cx="1580.8" cy="1273.8" r="6.5"/><circle cx="1585.7" cy="1283.9" r="6.5"/><circle cx="1590.8" cy="1271.1" r="6.5"/><circle cx="1593.8" cy="1281.1" r="6.5"/><circle cx="1602" cy="1273" r="6.5"/><circle cx="1594.9" cy="1291.2" r="6.5"/><circle cx="1603.9" cy="1290.7" r="6.5"/><circle cx="1495.1" cy="1283.9" r="6.5"/><circle cx="1551.7" cy="1283" r="6.5"/><circle cx="1563.1" cy="1288.8" r="6.5"/><circle cx="1566.6" cy="1296.1" r="6.5"/><circle cx="1571.3" cy="1294.7" r="6.5"/><circle cx="1544.1" cy="1303.4" r="6.5"/><circle cx="1557.7" cy="1304.3" r="6.5"/><circle cx="1540.8" cy="1317" r="6.5"/><circle cx="1492.9" cy="1320" r="6.5"/><circle cx="1518.8" cy="1326" r="6.5"/><circle cx="1512.8" cy="1336.1" r="6.5"/><circle cx="1542.7" cy="1331.5" r="6.5"/><circle cx="1548.7" cy="1338.8" r="6.5"/><circle cx="1576.2" cy="1326" r="6.5"/><circle cx="1595.7" cy="1314.6" r="6.5"/><circle cx="1605.3" cy="1310.5" r="6.5"/><circle cx="1609.3" cy="1315.1" r="6.5"/><circle cx="1599.8" cy="1332.3" r="6.5"/><circle cx="1522.3" cy="1353.2" r="6.5"/><circle cx="1528.6" cy="1350.5" r="6.5"/><circle cx="1500" cy="1361.4" r="6.5"/><circle cx="1501.9" cy="1372.8" r="6.5"/><circle cx="1515" cy="1365.4" r="6.5"/><circle cx="1537.3" cy="1364.9" r="6.5"/><circle cx="1572.6" cy="1363.3" r="6.5"/><circle cx="1607.4" cy="1381.2" r="6.5"/><circle cx="1482.1" cy="1384.5" r="6.5"/><circle cx="1498.4" cy="1386.4" r="6.5"/><circle cx="1516.9" cy="1398.6" r="6.5"/><circle cx="1539.2" cy="1393.2" r="6.5"/><circle cx="1583.5" cy="1404" r="6.5"/><circle cx="1521.5" cy="1416.5" r="6.5"/><circle cx="1478" cy="1425.8" r="6.5"/><circle cx="1480.2" cy="1436.1" r="6.5"/><circle cx="1559.6" cy="1417.1" r="6.5"/><circle cx="1553.6" cy="1433.9" r="6.5"/><circle cx="1565" cy="1439.7" r="6.5"/><circle cx="1550" cy="1450.6" r="6.5"/><circle cx="1504.1" cy="1460.6" r="6.5"/><circle cx="1597.9" cy="1459.5" r="6.5"/><circle cx="1506" cy="1505.4" r="6.5"/><circle cx="1620.5" cy="1194.9" r="6.5"/><circle cx="1618.6" cy="1231.7" r="6.5"/><circle cx="1690.7" cy="1245.2" r="6.5"/><circle cx="1709.2" cy="1250.4" r="6.5"/><circle cx="1730.9" cy="1249.3" r="6.5"/><circle cx="1660.7" cy="1259.4" r="6.5"/><circle cx="1672.2" cy="1260.8" r="6.5"/><circle cx="1651.8" cy="1276.3" r="6.5"/><circle cx="1613.2" cy="1284.7" r="6.5"/><circle cx="1677.1" cy="1282.5" r="6.5"/><circle cx="1685.2" cy="1287.9" r="6.5"/><circle cx="1732.8" cy="1277.9" r="6.5"/><circle cx="1741" cy="1283.9" r="6.5"/><circle cx="1727.4" cy="1289.3" r="6.5"/><circle cx="1637.1" cy="1288.8" r="6.5"/><circle cx="1633" cy="1298.8" r="6.5"/><circle cx="1659.4" cy="1290.1" r="6.5"/><circle cx="1657.5" cy="1302.1" r="6.5"/><circle cx="1701.5" cy="1296.1" r="6.5"/><circle cx="1694.2" cy="1305.6" r="6.5"/><circle cx="1711.1" cy="1305.6" r="6.5"/><circle cx="1715.1" cy="1302.9" r="6.5"/><circle cx="1645.2" cy="1306.4" r="6.5"/><circle cx="1650.7" cy="1313.8" r="6.5"/><circle cx="1655.3" cy="1315.1" r="6.5"/><circle cx="1611" cy="1312.4" r="6.5"/><circle cx="1615.9" cy="1321.9" r="6.5"/><circle cx="1626.2" cy="1326" r="6.5"/><circle cx="1631.7" cy="1327.4" r="6.5"/><circle cx="1639" cy="1323.3" r="6.5"/><circle cx="1646.3" cy="1327.4" r="6.5"/><circle cx="1655.3" cy="1328.7" r="6.5"/><circle cx="1662.9" cy="1319.2" r="6.5"/><circle cx="1665.4" cy="1326.8" r="6.5"/><circle cx="1670.3" cy="1332.3" r="6.5"/><circle cx="1681.7" cy="1326" r="6.5"/><circle cx="1683" cy="1330.6" r="6.5"/><circle cx="1687.1" cy="1316.5" r="6.5"/><circle cx="1723.8" cy="1323.3" r="6.5"/><circle cx="1611" cy="1344.5" r="6.5"/><circle cx="1627.6" cy="1341" r="6.5"/><circle cx="1692.6" cy="1339.1" r="6.5"/><circle cx="1703.4" cy="1339.1" r="6.5"/><circle cx="1713.2" cy="1337.7" r="6.5"/><circle cx="1729.3" cy="1354" r="6.5"/><circle cx="1707" cy="1363.5" r="6.5"/><circle cx="1716.5" cy="1366.8" r="6.5"/><circle cx="1722.5" cy="1370.9" r="6.5"/><circle cx="1726.6" cy="1365.4" r="6.5"/><circle cx="1738.3" cy="1363.5" r="6.5"/><circle cx="1640.4" cy="1375.5" r="6.5"/><circle cx="1688.8" cy="1383.9" r="6.5"/><circle cx="1615.1" cy="1396.7" r="6.5"/><circle cx="1678.4" cy="1403.5" r="6.5"/><circle cx="1675.2" cy="1409.8" r="6.5"/><circle cx="1698" cy="1404.9" r="6.5"/><circle cx="1718.4" cy="1399.4" r="6.5"/><circle cx="1648" cy="1416.6" r="6.5"/><circle cx="1696.1" cy="1421.2" r="6.5"/><circle cx="1735" cy="1417.7" r="6.5"/><circle cx="1624" cy="1431.5" r="6.5"/><circle cx="1642.5" cy="1439.7" r="6.5"/><circle cx="1668.4" cy="1436.2" r="6.5"/><circle cx="1699.6" cy="1437.5" r="6.5"/><circle cx="1622.1" cy="1455.2" r="6.5"/><circle cx="1736.9" cy="1454.6" r="6.5"/><circle cx="1664.8" cy="1470.7" r="6.5"/><circle cx="1705.1" cy="1473.7" r="6.5"/><circle cx="1720" cy="1481.6" r="6.5"/><circle cx="1634.9" cy="1499.2" r="6.5"/><circle cx="1674.3" cy="1500.1" r="6.5"/><circle cx="1629.5" cy="1522.4" r="6.5"/><circle cx="1799.7" cy="1164.8" r="6.5"/><circle cx="1846" cy="1181.1" r="6.5"/><circle cx="1751.6" cy="1219.4" r="6.5"/><circle cx="1866.4" cy="1228.1" r="6.5"/><circle cx="1806" cy="1235.5" r="6.5"/><circle cx="1816" cy="1232.7" r="6.5"/><circle cx="1825" cy="1248.5" r="6.5"/><circle cx="1836.4" cy="1242.5" r="6.5"/><circle cx="1848.1" cy="1248" r="6.5"/><circle cx="1854.9" cy="1241.7" r="6.5"/><circle cx="1853" cy="1255.3" r="6.5"/><circle cx="1790.2" cy="1262.1" r="6.5"/><circle cx="1823.1" cy="1266.2" r="6.5"/><circle cx="1834.5" cy="1265.4" r="6.5"/><circle cx="1743.4" cy="1285.2" r="6.5"/><circle cx="1767.9" cy="1288.5" r="6.5"/><circle cx="1758.4" cy="1296.1" r="6.5"/><circle cx="1775.5" cy="1300.7" r="6.5"/><circle cx="1795.7" cy="1301" r="6.5"/><circle cx="1808.7" cy="1289.3" r="6.5"/><circle cx="1827.2" cy="1294.7" r="6.5"/><circle cx="1821.8" cy="1300.7" r="6.5"/><circle cx="1843.5" cy="1289.3" r="6.5"/><circle cx="1851.7" cy="1282.5" r="6.5"/><circle cx="1856.8" cy="1287.1" r="6.5"/><circle cx="1871.8" cy="1296.1" r="6.5"/><circle cx="1867.7" cy="1302.4" r="6.5"/><circle cx="1831" cy="1313" r="6.5"/><circle cx="1770.1" cy="1316" r="6.5"/><circle cx="1773.4" cy="1322.5" r="6.5"/><circle cx="1771.4" cy="1332.8" r="6.5"/><circle cx="1818.2" cy="1319.8" r="6.5"/><circle cx="1814.1" cy="1330.1" r="6.5"/><circle cx="1801.4" cy="1336.1" r="6.5"/><circle cx="1810.1" cy="1342.9" r="6.5"/><circle cx="1849.5" cy="1318.4" r="6.5"/><circle cx="1838.1" cy="1331.5" r="6.5"/><circle cx="1860.4" cy="1327.9" r="6.5"/><circle cx="1869.9" cy="1329.3" r="6.5"/><circle cx="1748.1" cy="1352.7" r="6.5"/><circle cx="1776.1" cy="1347.8" r="6.5"/><circle cx="1787" cy="1345.1" r="6.5"/><circle cx="1779.3" cy="1355.9" r="6.5"/><circle cx="1792.4" cy="1350.5" r="6.5"/><circle cx="1794.6" cy="1359.2" r="6.5"/><circle cx="1799.2" cy="1364.9" r="6.5"/><circle cx="1804.1" cy="1370.3" r="6.5"/><circle cx="1873.2" cy="1348.6" r="6.5"/><circle cx="1764.4" cy="1371.7" r="6.5"/><circle cx="1840" cy="1370.9" r="6.5"/><circle cx="1746.2" cy="1381.8" r="6.5"/><circle cx="1753.5" cy="1386.4" r="6.5"/><circle cx="1757" cy="1398.1" r="6.5"/><circle cx="1761.9" cy="1400.3" r="6.5"/><circle cx="1788.3" cy="1409" r="6.5"/><circle cx="1805.2" cy="1406.8" r="6.5"/><circle cx="1812.2" cy="1392.6" r="6.5"/><circle cx="1862.3" cy="1392.1" r="6.5"/><circle cx="1876.9" cy="1406" r="6.5"/><circle cx="1829.1" cy="1421.7" r="6.5"/><circle cx="1858.5" cy="1422.6" r="6.5"/><circle cx="1762.5" cy="1443.8" r="6.5"/><circle cx="1781" cy="1453" r="6.5"/><circle cx="1841.9" cy="1438.3" r="6.5"/><circle cx="1832.6" cy="1449.2" r="6.5"/><circle cx="1863.9" cy="1456.6" r="6.5"/><circle cx="1744" cy="1470.7" r="6.5"/><circle cx="1755.1" cy="1470.1" r="6.5"/><circle cx="1819.6" cy="1489.7" r="6.5"/><circle cx="1749.7" cy="1519.1" r="6.5"/><circle cx="1766" cy="1521" r="6.5"/></g><rect x="250.0" y="1013.2" width="1657.3" height="637.7" fill="none" stroke="#000" stroke-width="5.6" stroke-linejoin="miter"/><path d="M281.4 1010.4v-16M281.4 1653.7v16M325.7 1010.4v-8M325.7 1653.7v8M370.1 1010.4v-8M370.1 1653.7v8M414.4 1010.4v-16M414.4 1653.7v16M458.7 1010.4v-8M458.7 1653.7v8M503.1 1010.4v-8M503.1 1653.7v8M547.4 1010.4v-16M547.4 1653.7v16M591.7 1010.4v-8M591.7 1653.7v8M636.1 1010.4v-8M636.1 1653.7v8M680.4 1010.4v-16M680.4 1653.7v16M724.7 1010.4v-8M724.7 1653.7v8M769.1 1010.4v-8M769.1 1653.7v8M813.4 1010.4v-16M813.4 1653.7v16M857.7 1010.4v-8M857.7 1653.7v8M902.1 1010.4v-8M902.1 1653.7v8M946.4 1010.4v-16M946.4 1653.7v16M990.7 1010.4v-8M990.7 1653.7v8M1035.1 1010.4v-8M1035.1 1653.7v8M1079.4 1010.4v-16M1079.4 1653.7v16M1123.7 1010.4v-8M1123.7 1653.7v8M1168.1 1010.4v-8M1168.1 1653.7v8M1212.4 1010.4v-16M1212.4 1653.7v16M1256.7 1010.4v-8M1256.7 1653.7v8M1301.1 1010.4v-8M1301.1 1653.7v8M1345.4 1010.4v-16M1345.4 1653.7v16M1389.8 1010.4v-8M1389.8 1653.7v8M1434.1 1010.4v-8M1434.1 1653.7v8M1478.4 1010.4v-16M1478.4 1653.7v16M1522.8 1010.4v-8M1522.8 1653.7v8M1567.1 1010.4v-8M1567.1 1653.7v8M1611.4 1010.4v-16M1611.4 1653.7v16M1655.8 1010.4v-8M1655.8 1653.7v8M1700.1 1010.4v-8M1700.1 1653.7v8M1744.4 1010.4v-16M1744.4 1653.7v16M1788.8 1010.4v-8M1788.8 1653.7v8M1833.1 1010.4v-8M1833.1 1653.7v8M1877.4 1010.4v-16M1877.4 1653.7v16M247.2 1069.9h-16M1910.1 1069.9h16M247.2 1160.7h-16M1910.1 1160.7h16M247.2 1251.6h-16M1910.1 1251.6h16M247.2 1342.4h-16M1910.1 1342.4h16M247.2 1433.2h-16M1910.1 1433.2h16M247.2 1524.1h-16M1910.1 1524.1h16M247.2 1614.9h-16M1910.1 1614.9h16" stroke="#000" stroke-width="2.2" fill="none"/><g font-family="Liberation Sans" font-weight="bold" font-size="45" fill="#000"><text transform="translate(281.4 1717.4) scale(0.966 1)" text-anchor="middle">0</text><text transform="translate(414.4 1717.4) scale(0.966 1)" text-anchor="middle">6</text><text transform="translate(547.4 1717.4) scale(0.966 1)" text-anchor="middle">12</text><text transform="translate(680.4 1717.4) scale(0.966 1)" text-anchor="middle">18</text><text transform="translate(813.4 1717.4) scale(0.966 1)" text-anchor="middle">24</text><text transform="translate(946.4 1717.4) scale(0.966 1)" text-anchor="middle">30</text><text transform="translate(1079.4 1717.4) scale(0.966 1)" text-anchor="middle">36</text><text transform="translate(1212.4 1717.4) scale(0.966 1)" text-anchor="middle">42</text><text transform="translate(1345.4 1717.4) scale(0.966 1)" text-anchor="middle">48</text><text transform="translate(1478.4 1717.4) scale(0.966 1)" text-anchor="middle">54</text><text transform="translate(1611.4 1717.4) scale(0.966 1)" text-anchor="middle">60</text><text transform="translate(1744.4 1717.4) scale(0.966 1)" text-anchor="middle">66</text><text transform="translate(1877.4 1717.4) scale(0.966 1)" text-anchor="middle">72</text><text transform="translate(214.2 1085.8) scale(0.966 1)" text-anchor="end">30</text><text transform="translate(214.2 1176.6) scale(0.966 1)" text-anchor="end">20</text><text transform="translate(214.2 1267.5) scale(0.966 1)" text-anchor="end">10</text><text transform="translate(214.2 1358.3) scale(0.966 1)" text-anchor="end">0</text><text transform="translate(214.2 1449.1) scale(0.966 1)" text-anchor="end">−10</text><text transform="translate(214.2 1540) scale(0.966 1)" text-anchor="end">−20</text><text transform="translate(214.2 1630.8) scale(0.966 1)" text-anchor="end">−30</text></g><text transform="translate(114.0 1332.1) rotate(-90) scale(0.94 1)" text-anchor="middle" font-family="Liberation Sans" font-size="45.06" fill="#000">North (mm)</text><g fill="#0000ff"><circle cx="344.3" cy="1940" r="6.5"/><circle cx="338.4" cy="1969.3" r="6.5"/><circle cx="353.3" cy="1967.2" r="6.5"/><circle cx="351.7" cy="1982.9" r="6.5"/><circle cx="316.3" cy="1992.4" r="6.5"/><circle cx="301.7" cy="2004.7" r="6.5"/><circle cx="364.2" cy="2000.6" r="6.5"/><circle cx="410.4" cy="2014.2" r="6.5"/><circle cx="281" cy="2028.6" r="6.5"/><circle cx="300" cy="2041.4" r="6.5"/><circle cx="325.3" cy="2051.7" r="6.5"/><circle cx="332.1" cy="2053.6" r="6.5"/><circle cx="309" cy="2062.3" r="6.5"/><circle cx="321.8" cy="2067.2" r="6.5"/><circle cx="332.9" cy="2063.2" r="6.5"/><circle cx="355.2" cy="2048.7" r="6.5"/><circle cx="390" cy="2050.1" r="6.5"/><circle cx="391.9" cy="2055" r="6.5"/><circle cx="408.8" cy="2050.9" r="6.5"/><circle cx="285.1" cy="2072.7" r="6.5"/><circle cx="290.5" cy="2080.8" r="6.5"/><circle cx="310.9" cy="2080.8" r="6.5"/><circle cx="340.3" cy="2081.4" r="6.5"/><circle cx="384.6" cy="2078.1" r="6.5"/><circle cx="397.9" cy="2079.5" r="6.5"/><circle cx="337" cy="2095" r="6.5"/><circle cx="366.6" cy="2092.3" r="6.5"/><circle cx="375.6" cy="2099.9" r="6.5"/><circle cx="292.1" cy="2105.3" r="6.5"/><circle cx="307.1" cy="2109.9" r="6.5"/><circle cx="319.9" cy="2108" r="6.5"/><circle cx="326.7" cy="2103.9" r="6.5"/><circle cx="334.8" cy="2103.1" r="6.5"/><circle cx="359.3" cy="2106.7" r="6.5"/><circle cx="368" cy="2107.2" r="6.5"/><circle cx="314.4" cy="2119.7" r="6.5"/><circle cx="298.1" cy="2124.9" r="6.5"/><circle cx="318" cy="2133.9" r="6.5"/><circle cx="346.2" cy="2129" r="6.5"/><circle cx="356.6" cy="2123" r="6.5"/><circle cx="363.4" cy="2118.9" r="6.5"/><circle cx="372.9" cy="2125.7" r="6.5"/><circle cx="388.4" cy="2126.5" r="6.5"/><circle cx="399.6" cy="2125.2" r="6.5"/><circle cx="412.3" cy="2124.3" r="6.5"/><circle cx="286.7" cy="2144.7" r="6.5"/><circle cx="313.1" cy="2148" r="6.5"/><circle cx="406.9" cy="2152.1" r="6.5"/><circle cx="403.6" cy="2166.5" r="6.5"/><circle cx="288.6" cy="2163.8" r="6.5"/><circle cx="294.6" cy="2159.7" r="6.5"/><circle cx="305.5" cy="2169.2" r="6.5"/><circle cx="369.6" cy="2164.3" r="6.5"/><circle cx="381.1" cy="2161.9" r="6.5"/><circle cx="383" cy="2165.1" r="6.5"/><circle cx="379.2" cy="2175.2" r="6.5"/><circle cx="377" cy="2184.7" r="6.5"/><circle cx="386.5" cy="2182" r="6.5"/><circle cx="296.2" cy="2184.7" r="6.5"/><circle cx="303.6" cy="2194.5" r="6.5"/><circle cx="341.6" cy="2191.5" r="6.5"/><circle cx="349.8" cy="2190.4" r="6.5"/><circle cx="396" cy="2248.6" r="6.5"/><circle cx="393.8" cy="2322.3" r="6.5"/><circle cx="401.5" cy="2353.3" r="6.5"/><circle cx="469.7" cy="1975.3" r="6.5"/><circle cx="419.7" cy="1989.2" r="6.5"/><circle cx="473.3" cy="1997.3" r="6.5"/><circle cx="475.2" cy="2013.7" r="6.5"/><circle cx="462.4" cy="2036" r="6.5"/><circle cx="468.4" cy="2045.5" r="6.5"/><circle cx="480.9" cy="2039.2" r="6.5"/><circle cx="454.8" cy="2048.7" r="6.5"/><circle cx="445.5" cy="2055" r="6.5"/><circle cx="471.4" cy="2061.2" r="6.5"/><circle cx="496.4" cy="2046.8" r="6.5"/><circle cx="501.8" cy="2044.9" r="6.5"/><circle cx="506.4" cy="2046" r="6.5"/><circle cx="543.4" cy="2046.3" r="6.5"/><circle cx="532.6" cy="2063.2" r="6.5"/><circle cx="508.6" cy="2066.4" r="6.5"/><circle cx="519.5" cy="2077.6" r="6.5"/><circle cx="427" cy="2064.5" r="6.5"/><circle cx="432.5" cy="2072.7" r="6.5"/><circle cx="443.4" cy="2080.8" r="6.5"/><circle cx="451" cy="2090.9" r="6.5"/><circle cx="454.2" cy="2091.7" r="6.5"/><circle cx="414" cy="2089" r="6.5"/><circle cx="416.2" cy="2099" r="6.5"/><circle cx="493.7" cy="2093.9" r="6.5"/><circle cx="477.3" cy="2109.4" r="6.5"/><circle cx="425.7" cy="2110.7" r="6.5"/><circle cx="435.2" cy="2112.6" r="6.5"/><circle cx="438.7" cy="2120.3" r="6.5"/><circle cx="449.3" cy="2125.7" r="6.5"/><circle cx="457" cy="2132.5" r="6.5"/><circle cx="465.9" cy="2145.3" r="6.5"/><circle cx="442" cy="2140.1" r="6.5"/><circle cx="448.2" cy="2145.6" r="6.5"/><circle cx="481.4" cy="2128.4" r="6.5"/><circle cx="488.2" cy="2127.1" r="6.5"/><circle cx="492.8" cy="2129.8" r="6.5"/><circle cx="500.5" cy="2124.9" r="6.5"/><circle cx="510.5" cy="2114" r="6.5"/><circle cx="512.7" cy="2124.3" r="6.5"/><circle cx="520.3" cy="2129.8" r="6.5"/><circle cx="528.5" cy="2133.9" r="6.5"/><circle cx="535.8" cy="2105.8" r="6.5"/><circle cx="541.8" cy="2107.5" r="6.5"/><circle cx="534.5" cy="2116.2" r="6.5"/><circle cx="540.4" cy="2121.1" r="6.5"/><circle cx="545.3" cy="2140.7" r="6.5"/><circle cx="499.1" cy="2146.1" r="6.5"/><circle cx="506.4" cy="2154.8" r="6.5"/><circle cx="530.9" cy="2153.7" r="6.5"/><circle cx="526.3" cy="2162.4" r="6.5"/><circle cx="538" cy="2165.9" r="6.5"/><circle cx="418.1" cy="2161.6" r="6.5"/><circle cx="431.1" cy="2155.6" r="6.5"/><circle cx="436.6" cy="2152.9" r="6.5"/><circle cx="459.7" cy="2167.9" r="6.5"/><circle cx="464.6" cy="2170.6" r="6.5"/><circle cx="486" cy="2170.6" r="6.5"/><circle cx="488.2" cy="2176" r="6.5"/><circle cx="479.2" cy="2191" r="6.5"/><circle cx="524.9" cy="2182" r="6.5"/><circle cx="523" cy="2198.3" r="6.5"/><circle cx="514.1" cy="2211.9" r="6.5"/><circle cx="428.9" cy="2203.2" r="6.5"/><circle cx="423.5" cy="2212.7" r="6.5"/><circle cx="458.3" cy="2216.8" r="6.5"/><circle cx="421.6" cy="2246.7" r="6.5"/><circle cx="516" cy="2241.3" r="6.5"/><circle cx="598.9" cy="1936.7" r="6.5"/><circle cx="569.6" cy="1980.2" r="6.5"/><circle cx="600.8" cy="2002.5" r="6.5"/><circle cx="637.5" cy="2010.7" r="6.5"/><circle cx="639.4" cy="2015" r="6.5"/><circle cx="564.1" cy="2030" r="6.5"/><circle cx="615.8" cy="2027.8" r="6.5"/><circle cx="630.2" cy="2042.8" r="6.5"/><circle cx="627.5" cy="2046.8" r="6.5"/><circle cx="647.1" cy="2039.2" r="6.5"/><circle cx="645.2" cy="2050.9" r="6.5"/><circle cx="652.5" cy="2061.8" r="6.5"/><circle cx="649" cy="2069.4" r="6.5"/><circle cx="668.8" cy="2049.6" r="6.5"/><circle cx="674.3" cy="2068" r="6.5"/><circle cx="623.1" cy="2057.2" r="6.5"/><circle cx="606.3" cy="2073.5" r="6.5"/><circle cx="621.2" cy="2074.6" r="6.5"/><circle cx="632.6" cy="2073.5" r="6.5"/><circle cx="661.5" cy="2078.9" r="6.5"/><circle cx="595.4" cy="2083.5" r="6.5"/><circle cx="612.2" cy="2086.8" r="6.5"/><circle cx="619.9" cy="2087.6" r="6.5"/><circle cx="636.2" cy="2088.2" r="6.5"/><circle cx="676.2" cy="2089" r="6.5"/><circle cx="678.3" cy="2093.9" r="6.5"/><circle cx="608.4" cy="2096.3" r="6.5"/><circle cx="611.2" cy="2102.6" r="6.5"/><circle cx="575.8" cy="2099.3" r="6.5"/><circle cx="666.9" cy="2102.6" r="6.5"/><circle cx="591.3" cy="2109.4" r="6.5"/><circle cx="588.6" cy="2114.8" r="6.5"/><circle cx="581.8" cy="2118.4" r="6.5"/><circle cx="587.2" cy="2122.2" r="6.5"/><circle cx="584" cy="2129.8" r="6.5"/><circle cx="560.6" cy="2121.1" r="6.5"/><circle cx="551.1" cy="2132" r="6.5"/><circle cx="641.6" cy="2110.2" r="6.5"/><circle cx="626.7" cy="2117.5" r="6.5"/><circle cx="643" cy="2124.3" r="6.5"/><circle cx="654.4" cy="2120.8" r="6.5"/><circle cx="656" cy="2129.2" r="6.5"/><circle cx="567.4" cy="2144.7" r="6.5"/><circle cx="579.1" cy="2142" r="6.5"/><circle cx="586.4" cy="2150.2" r="6.5"/><circle cx="547.8" cy="2154.3" r="6.5"/><circle cx="553.2" cy="2161.1" r="6.5"/><circle cx="558.7" cy="2157" r="6.5"/><circle cx="596.7" cy="2161.6" r="6.5"/><circle cx="624.5" cy="2140.1" r="6.5"/><circle cx="634.3" cy="2145.6" r="6.5"/><circle cx="671.5" cy="2151.5" r="6.5"/><circle cx="552.7" cy="2180.1" r="6.5"/><circle cx="566" cy="2185.5" r="6.5"/><circle cx="573.1" cy="2186.3" r="6.5"/><circle cx="570.9" cy="2189.6" r="6.5"/><circle cx="663.9" cy="2180.1" r="6.5"/><circle cx="665.3" cy="2184.7" r="6.5"/><circle cx="556.5" cy="2209.2" r="6.5"/><circle cx="604.4" cy="2218.2" r="6.5"/><circle cx="650.6" cy="2210.5" r="6.5"/><circle cx="657.9" cy="2220.9" r="6.5"/><circle cx="602.7" cy="2241.8" r="6.5"/><circle cx="679.1" cy="2244.5" r="6.5"/><circle cx="659.8" cy="2298.4" r="6.5"/><circle cx="593.5" cy="2454.2" r="6.5"/><circle cx="728.4" cy="2023.7" r="6.5"/><circle cx="695.2" cy="2036.5" r="6.5"/><circle cx="757.8" cy="2034.6" r="6.5"/><circle cx="811.3" cy="2015.6" r="6.5"/><circle cx="723" cy="2050.4" r="6.5"/><circle cx="720.8" cy="2059.1" r="6.5"/><circle cx="687.6" cy="2063.2" r="6.5"/><circle cx="765.1" cy="2070.8" r="6.5"/><circle cx="780.1" cy="2065.3" r="6.5"/><circle cx="789.6" cy="2065.9" r="6.5"/><circle cx="800.5" cy="2073.5" r="6.5"/><circle cx="809.2" cy="2057.7" r="6.5"/><circle cx="735.7" cy="2087.6" r="6.5"/><circle cx="759.7" cy="2087.6" r="6.5"/><circle cx="792.8" cy="2084.9" r="6.5"/><circle cx="807.8" cy="2084.9" r="6.5"/><circle cx="704.5" cy="2093.6" r="6.5"/><circle cx="682.2" cy="2105.3" r="6.5"/><circle cx="700.4" cy="2105.8" r="6.5"/><circle cx="711.5" cy="2114.8" r="6.5"/><circle cx="702.6" cy="2118.9" r="6.5"/><circle cx="708" cy="2124.9" r="6.5"/><circle cx="717.5" cy="2129" r="6.5"/><circle cx="724.9" cy="2137.4" r="6.5"/><circle cx="726.2" cy="2111.3" r="6.5"/><circle cx="739.3" cy="2114" r="6.5"/><circle cx="773.3" cy="2101.8" r="6.5"/><circle cx="778.2" cy="2098.5" r="6.5"/><circle cx="784.1" cy="2101.2" r="6.5"/><circle cx="798.6" cy="2096.3" r="6.5"/><circle cx="803.2" cy="2101.2" r="6.5"/><circle cx="804.5" cy="2104.8" r="6.5"/><circle cx="685.7" cy="2133.9" r="6.5"/><circle cx="684.1" cy="2152.9" r="6.5"/><circle cx="693" cy="2148.8" r="6.5"/><circle cx="709.4" cy="2150.2" r="6.5"/><circle cx="716.2" cy="2156.2" r="6.5"/><circle cx="713.4" cy="2161.6" r="6.5"/><circle cx="747.4" cy="2134.7" r="6.5"/><circle cx="752.9" cy="2133.3" r="6.5"/><circle cx="750.1" cy="2140.7" r="6.5"/><circle cx="745.2" cy="2147.5" r="6.5"/><circle cx="740.6" cy="2154.3" r="6.5"/><circle cx="733.3" cy="2159.7" r="6.5"/><circle cx="729.7" cy="2167" r="6.5"/><circle cx="731.9" cy="2175.2" r="6.5"/><circle cx="768.6" cy="2129.8" r="6.5"/><circle cx="771.9" cy="2137.9" r="6.5"/><circle cx="770.5" cy="2134.4" r="6.5"/><circle cx="791.5" cy="2132.5" r="6.5"/><circle cx="796.9" cy="2123" r="6.5"/><circle cx="794.5" cy="2142.6" r="6.5"/><circle cx="776" cy="2157" r="6.5"/><circle cx="785.5" cy="2152.9" r="6.5"/><circle cx="805.9" cy="2152.9" r="6.5"/><circle cx="689.5" cy="2176" r="6.5"/><circle cx="706.1" cy="2180.9" r="6.5"/><circle cx="697.1" cy="2185" r="6.5"/><circle cx="698.5" cy="2189.6" r="6.5"/><circle cx="743.3" cy="2182.8" r="6.5"/><circle cx="763.2" cy="2165.9" r="6.5"/><circle cx="761.6" cy="2171.4" r="6.5"/><circle cx="767.3" cy="2176.6" r="6.5"/><circle cx="782" cy="2168.4" r="6.5"/><circle cx="787.4" cy="2186.3" r="6.5"/><circle cx="718.9" cy="2201" r="6.5"/><circle cx="737.4" cy="2215.4" r="6.5"/><circle cx="754.8" cy="2212.7" r="6.5"/><circle cx="756.4" cy="2216" r="6.5"/><circle cx="691.1" cy="2277.2" r="6.5"/><circle cx="839.1" cy="1893.7" r="6.5"/><circle cx="833.4" cy="1947.6" r="6.5"/><circle cx="841" cy="2000.6" r="6.5"/><circle cx="944.3" cy="2000.6" r="6.5"/><circle cx="822.5" cy="2027.3" r="6.5"/><circle cx="832" cy="2035.1" r="6.5"/><circle cx="925.8" cy="2021.8" r="6.5"/><circle cx="915" cy="2036" r="6.5"/><circle cx="817.1" cy="2048.7" r="6.5"/><circle cx="815.2" cy="2061.8" r="6.5"/><circle cx="868.7" cy="2041.9" r="6.5"/><circle cx="883.7" cy="2044.1" r="6.5"/><circle cx="847.8" cy="2057.2" r="6.5"/><circle cx="854.6" cy="2058.5" r="6.5"/><circle cx="916.6" cy="2054.5" r="6.5"/><circle cx="929.4" cy="2055.5" r="6.5"/><circle cx="922.6" cy="2065.9" r="6.5"/><circle cx="937" cy="2072.1" r="6.5"/><circle cx="942.4" cy="2078.1" r="6.5"/><circle cx="938.9" cy="2085.5" r="6.5"/><circle cx="846.4" cy="2080" r="6.5"/><circle cx="859.2" cy="2086.3" r="6.5"/><circle cx="818.7" cy="2093.1" r="6.5"/><circle cx="857.3" cy="2102" r="6.5"/><circle cx="866.8" cy="2098.5" r="6.5"/><circle cx="864.9" cy="2109.4" r="6.5"/><circle cx="885" cy="2099.3" r="6.5"/><circle cx="890.8" cy="2109.9" r="6.5"/><circle cx="920.4" cy="2106.1" r="6.5"/><circle cx="828.2" cy="2112.1" r="6.5"/><circle cx="851.9" cy="2115.6" r="6.5"/><circle cx="876.3" cy="2121.6" r="6.5"/><circle cx="882.3" cy="2122.2" r="6.5"/><circle cx="889.1" cy="2123.5" r="6.5"/><circle cx="905.4" cy="2121.1" r="6.5"/><circle cx="842.4" cy="2123" r="6.5"/><circle cx="845.1" cy="2133.9" r="6.5"/><circle cx="861.4" cy="2134.7" r="6.5"/><circle cx="855.4" cy="2142" r="6.5"/><circle cx="813" cy="2158.3" r="6.5"/><circle cx="820.6" cy="2169.2" r="6.5"/><circle cx="824.7" cy="2166.5" r="6.5"/><circle cx="862.7" cy="2154.3" r="6.5"/><circle cx="870.4" cy="2161.1" r="6.5"/><circle cx="874.4" cy="2153.7" r="6.5"/><circle cx="886.7" cy="2148.8" r="6.5"/><circle cx="894.6" cy="2155.6" r="6.5"/><circle cx="892.1" cy="2165.9" r="6.5"/><circle cx="898.6" cy="2171.9" r="6.5"/><circle cx="901.6" cy="2180.9" r="6.5"/><circle cx="903.5" cy="2188.2" r="6.5"/><circle cx="911.2" cy="2174.7" r="6.5"/><circle cx="934.8" cy="2162.4" r="6.5"/><circle cx="930.7" cy="2168.7" r="6.5"/><circle cx="835" cy="2188.2" r="6.5"/><circle cx="849.7" cy="2184.7" r="6.5"/><circle cx="877.7" cy="2201.8" r="6.5"/><circle cx="909" cy="2198.3" r="6.5"/><circle cx="918.5" cy="2198.3" r="6.5"/><circle cx="924.5" cy="2203.2" r="6.5"/><circle cx="913.1" cy="2211.9" r="6.5"/><circle cx="896.2" cy="2227.7" r="6.5"/><circle cx="907.6" cy="2230.4" r="6.5"/><circle cx="826" cy="2240.7" r="6.5"/><circle cx="830.1" cy="2256.8" r="6.5"/><circle cx="837.5" cy="2258.1" r="6.5"/><circle cx="900" cy="2256.2" r="6.5"/><circle cx="879.9" cy="2275.8" r="6.5"/><circle cx="872.3" cy="2329.1" r="6.5"/><circle cx="932.9" cy="2330.2" r="6.5"/><circle cx="1003.4" cy="1940" r="6.5"/><circle cx="999.8" cy="1963.3" r="6.5"/><circle cx="1034.6" cy="1966.6" r="6.5"/><circle cx="1040.6" cy="1965.8" r="6.5"/><circle cx="946" cy="2013.4" r="6.5"/><circle cx="984.9" cy="2040.9" r="6.5"/><circle cx="1033" cy="2029.2" r="6.5"/><circle cx="1036.5" cy="2036" r="6.5"/><circle cx="1062.4" cy="2027.8" r="6.5"/><circle cx="1064.6" cy="2046.8" r="6.5"/><circle cx="1048.2" cy="2054.5" r="6.5"/><circle cx="1053.7" cy="2061.8" r="6.5"/><circle cx="1060.5" cy="2056.4" r="6.5"/><circle cx="1067.8" cy="2060.4" r="6.5"/><circle cx="1073.3" cy="2064.5" r="6.5"/><circle cx="1071.9" cy="2076.2" r="6.5"/><circle cx="957.7" cy="2059.1" r="6.5"/><circle cx="965" cy="2065.1" r="6.5"/><circle cx="955.5" cy="2071.9" r="6.5"/><circle cx="977.5" cy="2065.9" r="6.5"/><circle cx="991.7" cy="2065.9" r="6.5"/><circle cx="997.9" cy="2061.8" r="6.5"/><circle cx="1005.3" cy="2062.3" r="6.5"/><circle cx="1027.6" cy="2071.3" r="6.5"/><circle cx="1042.5" cy="2072.1" r="6.5"/><circle cx="1001.7" cy="2092.5" r="6.5"/><circle cx="1023.8" cy="2093.6" r="6.5"/><circle cx="1029.7" cy="2089" r="6.5"/><circle cx="1032.5" cy="2093.1" r="6.5"/><circle cx="1025.7" cy="2103.4" r="6.5"/><circle cx="1046.1" cy="2093.1" r="6.5"/><circle cx="1049.6" cy="2105.3" r="6.5"/><circle cx="975.4" cy="2103.4" r="6.5"/><circle cx="950.1" cy="2117.5" r="6.5"/><circle cx="953.6" cy="2125.7" r="6.5"/><circle cx="966.4" cy="2116.2" r="6.5"/><circle cx="969.9" cy="2121.1" r="6.5"/><circle cx="963.1" cy="2124.3" r="6.5"/><circle cx="972.1" cy="2125.7" r="6.5"/><circle cx="959" cy="2140.7" r="6.5"/><circle cx="974" cy="2142" r="6.5"/><circle cx="980.2" cy="2147.5" r="6.5"/><circle cx="983.5" cy="2157" r="6.5"/><circle cx="990.3" cy="2154.3" r="6.5"/><circle cx="986.8" cy="2161.9" r="6.5"/><circle cx="1006.6" cy="2148.8" r="6.5"/><circle cx="1012.1" cy="2144.7" r="6.5"/><circle cx="1016.7" cy="2142" r="6.5"/><circle cx="1021.6" cy="2125.7" r="6.5"/><circle cx="1038.4" cy="2119.7" r="6.5"/><circle cx="1044.7" cy="2115.6" r="6.5"/><circle cx="1051.5" cy="2120.3" r="6.5"/><circle cx="1057.5" cy="2128.4" r="6.5"/><circle cx="1058.8" cy="2114.8" r="6.5"/><circle cx="1066.5" cy="2109.4" r="6.5"/><circle cx="1076" cy="2108" r="6.5"/><circle cx="1073.3" cy="2125.7" r="6.5"/><circle cx="1055" cy="2140.1" r="6.5"/><circle cx="948.2" cy="2176" r="6.5"/><circle cx="960.9" cy="2185" r="6.5"/><circle cx="981.3" cy="2178.2" r="6.5"/><circle cx="994.4" cy="2175.2" r="6.5"/><circle cx="1014" cy="2178.7" r="6.5"/><circle cx="1020.2" cy="2179.3" r="6.5"/><circle cx="995.7" cy="2195" r="6.5"/><circle cx="1009.3" cy="2203.2" r="6.5"/><circle cx="1018.3" cy="2196.4" r="6.5"/><circle cx="968.6" cy="2218.2" r="6.5"/><circle cx="1011.2" cy="2235.3" r="6.5"/><circle cx="989" cy="2255.7" r="6.5"/><circle cx="1191.8" cy="1917.7" r="6.5"/><circle cx="1099.4" cy="1945.4" r="6.5"/><circle cx="1199.5" cy="1954.4" r="6.5"/><circle cx="1181" cy="1961.2" r="6.5"/><circle cx="1092" cy="1977.5" r="6.5"/><circle cx="1209" cy="1983.7" r="6.5"/><circle cx="1093.9" cy="2004.7" r="6.5"/><circle cx="1184.5" cy="2008.2" r="6.5"/><circle cx="1197.6" cy="2008.2" r="6.5"/><circle cx="1206.3" cy="2005.2" r="6.5"/><circle cx="1153.2" cy="2019.6" r="6.5"/><circle cx="1204.9" cy="2030.5" r="6.5"/><circle cx="1130.9" cy="2032.4" r="6.5"/><circle cx="1142.3" cy="2038.7" r="6.5"/><circle cx="1081.2" cy="2042.8" r="6.5"/><circle cx="1086.6" cy="2039.2" r="6.5"/><circle cx="1105.1" cy="2048.7" r="6.5"/><circle cx="1114.3" cy="2046.8" r="6.5"/><circle cx="1120.6" cy="2042.8" r="6.5"/><circle cx="1079" cy="2060.4" r="6.5"/><circle cx="1090.1" cy="2057.7" r="6.5"/><circle cx="1107" cy="2071.9" r="6.5"/><circle cx="1169.5" cy="2079.5" r="6.5"/><circle cx="1177.7" cy="2079.5" r="6.5"/><circle cx="1193.5" cy="2075.4" r="6.5"/><circle cx="1149.1" cy="2087.6" r="6.5"/><circle cx="1144.2" cy="2094.4" r="6.5"/><circle cx="1155.9" cy="2099.9" r="6.5"/><circle cx="1161.4" cy="2096.3" r="6.5"/><circle cx="1182.6" cy="2103.1" r="6.5"/><circle cx="1084.4" cy="2103.1" r="6.5"/><circle cx="1083.1" cy="2116.2" r="6.5"/><circle cx="1100.2" cy="2102.6" r="6.5"/><circle cx="1108.4" cy="2095.8" r="6.5"/><circle cx="1097.5" cy="2109.9" r="6.5"/><circle cx="1112.4" cy="2110.7" r="6.5"/><circle cx="1110.5" cy="2121.6" r="6.5"/><circle cx="1128.7" cy="2120.3" r="6.5"/><circle cx="1145.1" cy="2117.5" r="6.5"/><circle cx="1149.7" cy="2123" r="6.5"/><circle cx="1171.4" cy="2113.5" r="6.5"/><circle cx="1195.4" cy="2117.5" r="6.5"/><circle cx="1179.1" cy="2128.4" r="6.5"/><circle cx="1200.8" cy="2133.9" r="6.5"/><circle cx="1203" cy="2138.8" r="6.5"/><circle cx="1096.1" cy="2136.6" r="6.5"/><circle cx="1102.9" cy="2146.1" r="6.5"/><circle cx="1088.5" cy="2163.8" r="6.5"/><circle cx="1140.2" cy="2160.2" r="6.5"/><circle cx="1126.8" cy="2174.7" r="6.5"/><circle cx="1123.3" cy="2185" r="6.5"/><circle cx="1138.3" cy="2177.4" r="6.5"/><circle cx="1166.8" cy="2156.2" r="6.5"/><circle cx="1175" cy="2161.6" r="6.5"/><circle cx="1185.9" cy="2172.7" r="6.5"/><circle cx="1210.3" cy="2169.8" r="6.5"/><circle cx="1159.5" cy="2185.5" r="6.5"/><circle cx="1164.9" cy="2185" r="6.5"/><circle cx="1156.8" cy="2205.9" r="6.5"/><circle cx="1173.1" cy="2214.1" r="6.5"/><circle cx="1188" cy="2206.5" r="6.5"/><circle cx="1117.9" cy="2215.4" r="6.5"/><circle cx="1125.5" cy="2214.9" r="6.5"/><circle cx="1116" cy="2227.1" r="6.5"/><circle cx="1132.3" cy="2255.4" r="6.5"/><circle cx="1136.9" cy="2259.8" r="6.5"/><circle cx="1189.9" cy="2287" r="6.5"/><circle cx="1134.7" cy="2354.1" r="6.5"/><circle cx="1225" cy="1920.4" r="6.5"/><circle cx="1236.5" cy="1917.1" r="6.5"/><circle cx="1302.5" cy="1923.9" r="6.5"/><circle cx="1288.9" cy="1953" r="6.5"/><circle cx="1292.5" cy="1953" r="6.5"/><circle cx="1228.6" cy="1963.3" r="6.5"/><circle cx="1234" cy="1972.1" r="6.5"/><circle cx="1238.1" cy="1973.4" r="6.5"/><circle cx="1234" cy="1980.2" r="6.5"/><circle cx="1300.6" cy="1972.1" r="6.5"/><circle cx="1310.2" cy="1978.9" r="6.5"/><circle cx="1214.2" cy="1999.2" r="6.5"/><circle cx="1227.2" cy="2010.9" r="6.5"/><circle cx="1241.4" cy="2002" r="6.5"/><circle cx="1239.4" cy="2010.7" r="6.5"/><circle cx="1271.3" cy="1998.4" r="6.5"/><circle cx="1278.6" cy="2014.2" r="6.5"/><circle cx="1275.3" cy="2025.9" r="6.5"/><circle cx="1308" cy="2011.5" r="6.5"/><circle cx="1217.4" cy="2027.8" r="6.5"/><circle cx="1269.4" cy="2045.5" r="6.5"/><circle cx="1219.6" cy="2061.8" r="6.5"/><circle cx="1224.5" cy="2062.6" r="6.5"/><circle cx="1230.5" cy="2070" r="6.5"/><circle cx="1246.8" cy="2057.7" r="6.5"/><circle cx="1253.6" cy="2061" r="6.5"/><circle cx="1244.1" cy="2073.2" r="6.5"/><circle cx="1212" cy="2075.9" r="6.5"/><circle cx="1215.5" cy="2093.1" r="6.5"/><circle cx="1265.3" cy="2087.6" r="6.5"/><circle cx="1250.9" cy="2097.7" r="6.5"/><circle cx="1297.1" cy="2071.3" r="6.5"/><circle cx="1312.9" cy="2079.5" r="6.5"/><circle cx="1334.4" cy="2072.7" r="6.5"/><circle cx="1299.3" cy="2089.8" r="6.5"/><circle cx="1314.8" cy="2093.6" r="6.5"/><circle cx="1320.2" cy="2094.4" r="6.5"/><circle cx="1324.3" cy="2104.8" r="6.5"/><circle cx="1331.9" cy="2102.6" r="6.5"/><circle cx="1330.3" cy="2115.6" r="6.5"/><circle cx="1280" cy="2098.5" r="6.5"/><circle cx="1273.2" cy="2106.1" r="6.5"/><circle cx="1293.6" cy="2108.6" r="6.5"/><circle cx="1257.7" cy="2121.1" r="6.5"/><circle cx="1263.9" cy="2118.9" r="6.5"/><circle cx="1287" cy="2125.7" r="6.5"/><circle cx="1295.2" cy="2127.1" r="6.5"/><circle cx="1306.6" cy="2124.9" r="6.5"/><circle cx="1304.4" cy="2140.7" r="6.5"/><circle cx="1276.7" cy="2146.1" r="6.5"/><circle cx="1283.5" cy="2148" r="6.5"/><circle cx="1284.3" cy="2159.7" r="6.5"/><circle cx="1267.7" cy="2155.1" r="6.5"/><circle cx="1255" cy="2157" r="6.5"/><circle cx="1249" cy="2163" r="6.5"/><circle cx="1320.8" cy="2160.5" r="6.5"/><circle cx="1328.4" cy="2168.4" r="6.5"/><circle cx="1259.8" cy="2185.5" r="6.5"/><circle cx="1262.6" cy="2189.6" r="6.5"/><circle cx="1221.5" cy="2205.1" r="6.5"/><circle cx="1256.3" cy="2206.7" r="6.5"/><circle cx="1336" cy="2201.3" r="6.5"/><circle cx="1325.7" cy="2210" r="6.5"/><circle cx="1321.6" cy="2216.3" r="6.5"/><circle cx="1317" cy="2222.8" r="6.5"/><circle cx="1285.7" cy="2229.9" r="6.5"/><circle cx="1339.3" cy="2229" r="6.5"/><circle cx="1337.9" cy="2280.7" r="6.5"/><circle cx="1343.3" cy="2359.6" r="6.5"/><circle cx="1341.4" cy="2388.9" r="6.5"/><circle cx="1452.4" cy="1841.5" r="6.5"/><circle cx="1361.6" cy="1871.4" r="6.5"/><circle cx="1442.9" cy="1883.1" r="6.5"/><circle cx="1441" cy="1927.2" r="6.5"/><circle cx="1450.5" cy="1924.5" r="6.5"/><circle cx="1455.9" cy="1947" r="6.5"/><circle cx="1447.8" cy="1957.1" r="6.5"/><circle cx="1435.5" cy="1966.6" r="6.5"/><circle cx="1354.5" cy="1959.8" r="6.5"/><circle cx="1426" cy="1987.8" r="6.5"/><circle cx="1437.4" cy="1993" r="6.5"/><circle cx="1454" cy="1990.3" r="6.5"/><circle cx="1457.8" cy="2005.2" r="6.5"/><circle cx="1469" cy="2019.1" r="6.5"/><circle cx="1427.9" cy="2015.6" r="6.5"/><circle cx="1445.1" cy="2013.7" r="6.5"/><circle cx="1433.6" cy="2025.6" r="6.5"/><circle cx="1439.6" cy="2023.2" r="6.5"/><circle cx="1345" cy="2023.2" r="6.5"/><circle cx="1359.9" cy="2020.5" r="6.5"/><circle cx="1347.2" cy="2034.6" r="6.5"/><circle cx="1349.1" cy="2044.1" r="6.5"/><circle cx="1351.2" cy="2050.9" r="6.5"/><circle cx="1358" cy="2057.7" r="6.5"/><circle cx="1398.3" cy="2036.5" r="6.5"/><circle cx="1405.6" cy="2041.4" r="6.5"/><circle cx="1413" cy="2033.2" r="6.5"/><circle cx="1464.6" cy="2035.4" r="6.5"/><circle cx="1472.3" cy="2036.5" r="6.5"/><circle cx="1383.9" cy="2065.9" r="6.5"/><circle cx="1423.8" cy="2057.2" r="6.5"/><circle cx="1432.3" cy="2057.7" r="6.5"/><circle cx="1430.6" cy="2067.2" r="6.5"/><circle cx="1461.4" cy="2068.6" r="6.5"/><circle cx="1467.4" cy="2071.9" r="6.5"/><circle cx="1459.5" cy="2079.5" r="6.5"/><circle cx="1420.6" cy="2080.8" r="6.5"/><circle cx="1415.7" cy="2089.8" r="6.5"/><circle cx="1421.9" cy="2091.7" r="6.5"/><circle cx="1418.4" cy="2099" r="6.5"/><circle cx="1476.3" cy="2102.6" r="6.5"/><circle cx="1376.5" cy="2097.1" r="6.5"/><circle cx="1395.3" cy="2100.4" r="6.5"/><circle cx="1391.2" cy="2107.5" r="6.5"/><circle cx="1363.5" cy="2110.2" r="6.5"/><circle cx="1371.1" cy="2119.4" r="6.5"/><circle cx="1385.8" cy="2122.4" r="6.5"/><circle cx="1396.7" cy="2120.3" r="6.5"/><circle cx="1365.4" cy="2133.3" r="6.5"/><circle cx="1378.4" cy="2136.6" r="6.5"/><circle cx="1411.9" cy="2146.1" r="6.5"/><circle cx="1417.3" cy="2139.3" r="6.5"/><circle cx="1389.3" cy="2153.4" r="6.5"/><circle cx="1394.2" cy="2155.6" r="6.5"/><circle cx="1473.6" cy="2158.3" r="6.5"/><circle cx="1367" cy="2180.6" r="6.5"/><circle cx="1382" cy="2173.3" r="6.5"/><circle cx="1387.4" cy="2182.8" r="6.5"/><circle cx="1404.8" cy="2192.3" r="6.5"/><circle cx="1408.3" cy="2187.7" r="6.5"/><circle cx="1356.1" cy="2214.1" r="6.5"/><circle cx="1374.4" cy="2215.4" r="6.5"/><circle cx="1380.3" cy="2208.6" r="6.5"/><circle cx="1402.1" cy="2229.6" r="6.5"/><circle cx="1410.2" cy="2229" r="6.5"/><circle cx="1373" cy="2250" r="6.5"/><circle cx="1463.3" cy="2263" r="6.5"/><circle cx="1522.3" cy="2041.4" r="6.5"/><circle cx="1592.5" cy="2044.9" r="6.5"/><circle cx="1495.1" cy="2036.8" r="6.5"/><circle cx="1484.2" cy="2041.4" r="6.5"/><circle cx="1480.2" cy="2046.8" r="6.5"/><circle cx="1479.6" cy="2056.4" r="6.5"/><circle cx="1492.9" cy="2059.1" r="6.5"/><circle cx="1489.1" cy="2080" r="6.5"/><circle cx="1485.1" cy="2089.8" r="6.5"/><circle cx="1496.5" cy="2084.9" r="6.5"/><circle cx="1507.4" cy="2082.7" r="6.5"/><circle cx="1499.2" cy="2093.1" r="6.5"/><circle cx="1504.6" cy="2101.2" r="6.5"/><circle cx="1512.2" cy="2099.9" r="6.5"/><circle cx="1516.9" cy="2099" r="6.5"/><circle cx="1527.7" cy="2112.1" r="6.5"/><circle cx="1565" cy="2109.4" r="6.5"/><circle cx="1590.8" cy="2115.6" r="6.5"/><circle cx="1603.9" cy="2092.5" r="6.5"/><circle cx="1608.8" cy="2103.1" r="6.5"/><circle cx="1606.6" cy="2116.2" r="6.5"/><circle cx="1599.8" cy="2124.3" r="6.5"/><circle cx="1594.4" cy="2131.1" r="6.5"/><circle cx="1596.3" cy="2142" r="6.5"/><circle cx="1490.5" cy="2119.7" r="6.5"/><circle cx="1498.4" cy="2126.5" r="6.5"/><circle cx="1501.9" cy="2144.7" r="6.5"/><circle cx="1503.8" cy="2156.2" r="6.5"/><circle cx="1550" cy="2142" r="6.5"/><circle cx="1531.8" cy="2155.6" r="6.5"/><circle cx="1483.4" cy="2159.1" r="6.5"/><circle cx="1478" cy="2172.7" r="6.5"/><circle cx="1512.8" cy="2176.6" r="6.5"/><circle cx="1516.9" cy="2174.1" r="6.5"/><circle cx="1535.4" cy="2180.6" r="6.5"/><circle cx="1581.6" cy="2155.6" r="6.5"/><circle cx="1587.6" cy="2154.3" r="6.5"/><circle cx="1583.5" cy="2165.7" r="6.5"/><circle cx="1570.4" cy="2172.7" r="6.5"/><circle cx="1575.3" cy="2180.9" r="6.5"/><circle cx="1580.8" cy="2182.8" r="6.5"/><circle cx="1586.2" cy="2179.5" r="6.5"/><circle cx="1563.1" cy="2186.9" r="6.5"/><circle cx="1588.9" cy="2194.5" r="6.5"/><circle cx="1597.9" cy="2192.3" r="6.5"/><circle cx="1524.5" cy="2204" r="6.5"/><circle cx="1542.7" cy="2210" r="6.5"/><circle cx="1551.7" cy="2216" r="6.5"/><circle cx="1557.7" cy="2201" r="6.5"/><circle cx="1560.4" cy="2210" r="6.5"/><circle cx="1568.5" cy="2210" r="6.5"/><circle cx="1559.6" cy="2216.8" r="6.5"/><circle cx="1576.2" cy="2201" r="6.5"/><circle cx="1578.1" cy="2218.2" r="6.5"/><circle cx="1566.6" cy="2229.6" r="6.5"/><circle cx="1511.4" cy="2231.8" r="6.5"/><circle cx="1555.5" cy="2245.4" r="6.5"/><circle cx="1548.7" cy="2253" r="6.5"/><circle cx="1541.3" cy="2259.8" r="6.5"/><circle cx="1537.3" cy="2269.3" r="6.5"/><circle cx="1518.8" cy="2258.1" r="6.5"/><circle cx="1574" cy="2267.1" r="6.5"/><circle cx="1526.4" cy="2279.3" r="6.5"/><circle cx="1520.4" cy="2285.3" r="6.5"/><circle cx="1529.7" cy="2294.3" r="6.5"/><circle cx="1546" cy="2293.5" r="6.5"/><circle cx="1544.1" cy="2301.6" r="6.5"/><circle cx="1538.1" cy="2304.6" r="6.5"/><circle cx="1533.7" cy="2311.2" r="6.5"/><circle cx="1661.3" cy="1936.7" r="6.5"/><circle cx="1714.6" cy="1957.6" r="6.5"/><circle cx="1707.5" cy="1988.4" r="6.5"/><circle cx="1621.9" cy="2025.1" r="6.5"/><circle cx="1629.5" cy="2032.7" r="6.5"/><circle cx="1649.9" cy="2033.2" r="6.5"/><circle cx="1655.3" cy="2043.6" r="6.5"/><circle cx="1699.6" cy="2046.3" r="6.5"/><circle cx="1624" cy="2061.2" r="6.5"/><circle cx="1644.4" cy="2071.3" r="6.5"/><circle cx="1729.3" cy="2067.2" r="6.5"/><circle cx="1738.3" cy="2076.2" r="6.5"/><circle cx="1658.6" cy="2080.8" r="6.5"/><circle cx="1667" cy="2080.8" r="6.5"/><circle cx="1676.2" cy="2084.9" r="6.5"/><circle cx="1653.4" cy="2093.6" r="6.5"/><circle cx="1634.9" cy="2099.3" r="6.5"/><circle cx="1713" cy="2090.9" r="6.5"/><circle cx="1736.9" cy="2097.1" r="6.5"/><circle cx="1617.2" cy="2110.7" r="6.5"/><circle cx="1613.2" cy="2127.1" r="6.5"/><circle cx="1690.7" cy="2099.3" r="6.5"/><circle cx="1684.7" cy="2108.6" r="6.5"/><circle cx="1670.3" cy="2115.4" r="6.5"/><circle cx="1679.8" cy="2117.5" r="6.5"/><circle cx="1685.2" cy="2121.6" r="6.5"/><circle cx="1690.7" cy="2125.7" r="6.5"/><circle cx="1694.7" cy="2129.8" r="6.5"/><circle cx="1701.5" cy="2110.7" r="6.5"/><circle cx="1708.9" cy="2108" r="6.5"/><circle cx="1735" cy="2112.9" r="6.5"/><circle cx="1668.4" cy="2132" r="6.5"/><circle cx="1686.6" cy="2140.1" r="6.5"/><circle cx="1674.3" cy="2148" r="6.5"/><circle cx="1637.1" cy="2142" r="6.5"/><circle cx="1639" cy="2151.5" r="6.5"/><circle cx="1631.4" cy="2155.1" r="6.5"/><circle cx="1643.6" cy="2159.1" r="6.5"/><circle cx="1640.4" cy="2166.5" r="6.5"/><circle cx="1626.2" cy="2167.9" r="6.5"/><circle cx="1648.5" cy="2174.7" r="6.5"/><circle cx="1651.8" cy="2169.2" r="6.5"/><circle cx="1657.5" cy="2176" r="6.5"/><circle cx="1672.4" cy="2176.8" r="6.5"/><circle cx="1677.6" cy="2187.7" r="6.5"/><circle cx="1620.5" cy="2181.4" r="6.5"/><circle cx="1633" cy="2183.6" r="6.5"/><circle cx="1728.2" cy="2140.7" r="6.5"/><circle cx="1723.8" cy="2148" r="6.5"/><circle cx="1705.1" cy="2154.3" r="6.5"/><circle cx="1698" cy="2165.1" r="6.5"/><circle cx="1721.9" cy="2162.4" r="6.5"/><circle cx="1615.1" cy="2207.3" r="6.5"/><circle cx="1627.6" cy="2204.6" r="6.5"/><circle cx="1662.9" cy="2222.2" r="6.5"/><circle cx="1646.3" cy="2239.1" r="6.5"/><circle cx="1696.1" cy="2203.2" r="6.5"/><circle cx="1711.1" cy="2210.8" r="6.5"/><circle cx="1703.4" cy="2220.9" r="6.5"/><circle cx="1718.4" cy="2226.3" r="6.5"/><circle cx="1730.6" cy="2226.3" r="6.5"/><circle cx="1742.3" cy="2230.4" r="6.5"/><circle cx="1732.8" cy="2241.3" r="6.5"/><circle cx="1716.5" cy="2257" r="6.5"/><circle cx="1740.2" cy="2263.6" r="6.5"/><circle cx="1664.8" cy="2295.7" r="6.5"/><circle cx="1725.5" cy="2293.8" r="6.5"/><circle cx="1720" cy="2332.9" r="6.5"/><circle cx="1754.9" cy="2047.4" r="6.5"/><circle cx="1767.9" cy="2047.7" r="6.5"/><circle cx="1819.6" cy="2052.3" r="6.5"/><circle cx="1871.3" cy="2063.7" r="6.5"/><circle cx="1764.4" cy="2086.3" r="6.5"/><circle cx="1749.4" cy="2091.7" r="6.5"/><circle cx="1761.9" cy="2101.8" r="6.5"/><circle cx="1771.4" cy="2108.6" r="6.5"/><circle cx="1774.7" cy="2117.5" r="6.5"/><circle cx="1793.7" cy="2100.4" r="6.5"/><circle cx="1814.1" cy="2104.5" r="6.5"/><circle cx="1744" cy="2120.8" r="6.5"/><circle cx="1766" cy="2120.8" r="6.5"/><circle cx="1772" cy="2124.3" r="6.5"/><circle cx="1778.2" cy="2127.1" r="6.5"/><circle cx="1782.9" cy="2135.8" r="6.5"/><circle cx="1788.3" cy="2131.1" r="6.5"/><circle cx="1804.6" cy="2131.1" r="6.5"/><circle cx="1810.9" cy="2124.9" r="6.5"/><circle cx="1830.5" cy="2123" r="6.5"/><circle cx="1832.6" cy="2132" r="6.5"/><circle cx="1875.3" cy="2110.7" r="6.5"/><circle cx="1865.8" cy="2120.8" r="6.5"/><circle cx="1873.2" cy="2126.2" r="6.5"/><circle cx="1867.7" cy="2141.5" r="6.5"/><circle cx="1746.2" cy="2147.5" r="6.5"/><circle cx="1781" cy="2148.8" r="6.5"/><circle cx="1785" cy="2154.3" r="6.5"/><circle cx="1840" cy="2153.7" r="6.5"/><circle cx="1862.3" cy="2160.5" r="6.5"/><circle cx="1869.9" cy="2162.4" r="6.5"/><circle cx="1773.4" cy="2168.4" r="6.5"/><circle cx="1778.8" cy="2180.9" r="6.5"/><circle cx="1802.5" cy="2164.3" r="6.5"/><circle cx="1809.2" cy="2166.5" r="6.5"/><circle cx="1800" cy="2176" r="6.5"/><circle cx="1798.4" cy="2180.9" r="6.5"/><circle cx="1817.7" cy="2183.6" r="6.5"/><circle cx="1825" cy="2192.9" r="6.5"/><circle cx="1847.6" cy="2184.7" r="6.5"/><circle cx="1747.5" cy="2195" r="6.5"/><circle cx="1760.6" cy="2191.5" r="6.5"/><circle cx="1757" cy="2210.5" r="6.5"/><circle cx="1786.4" cy="2213.3" r="6.5"/><circle cx="1790.2" cy="2208.6" r="6.5"/><circle cx="1795.9" cy="2208.6" r="6.5"/><circle cx="1797.8" cy="2200.5" r="6.5"/><circle cx="1806.5" cy="2202.4" r="6.5"/><circle cx="1812.8" cy="2205.9" r="6.5"/><circle cx="1817.7" cy="2212.7" r="6.5"/><circle cx="1821.8" cy="2218.2" r="6.5"/><circle cx="1838.1" cy="2203.2" r="6.5"/><circle cx="1845.4" cy="2211.9" r="6.5"/><circle cx="1850.9" cy="2199.1" r="6.5"/><circle cx="1863.6" cy="2199.1" r="6.5"/><circle cx="1860.4" cy="2212.7" r="6.5"/><circle cx="1758.9" cy="2229.9" r="6.5"/><circle cx="1753" cy="2245.4" r="6.5"/><circle cx="1849" cy="2224.4" r="6.5"/><circle cx="1843.5" cy="2232.6" r="6.5"/><circle cx="1858.5" cy="2232.6" r="6.5"/><circle cx="1841.9" cy="2246.7" r="6.5"/><circle cx="1854.9" cy="2256.8" r="6.5"/><circle cx="1823.7" cy="2257.6" r="6.5"/><circle cx="1829.6" cy="2260.3" r="6.5"/><circle cx="1791.8" cy="2272.6" r="6.5"/><circle cx="1751.1" cy="2281.3" r="6.5"/><circle cx="1853" cy="2284" r="6.5"/><circle cx="1826.4" cy="2295.7" r="6.5"/><circle cx="1835.4" cy="2298.4" r="6.5"/><circle cx="1856.8" cy="2332.9" r="6.5"/></g><rect x="250.0" y="1829.3" width="1657.3" height="637.6000000000001" fill="none" stroke="#000" stroke-width="5.6" stroke-linejoin="miter"/><path d="M281.4 1826.5v-16M281.4 2469.7v16M325.7 1826.5v-8M325.7 2469.7v8M370.1 1826.5v-8M370.1 2469.7v8M414.4 1826.5v-16M414.4 2469.7v16M458.7 1826.5v-8M458.7 2469.7v8M503.1 1826.5v-8M503.1 2469.7v8M547.4 1826.5v-16M547.4 2469.7v16M591.7 1826.5v-8M591.7 2469.7v8M636.1 1826.5v-8M636.1 2469.7v8M680.4 1826.5v-16M680.4 2469.7v16M724.7 1826.5v-8M724.7 2469.7v8M769.1 1826.5v-8M769.1 2469.7v8M813.4 1826.5v-16M813.4 2469.7v16M857.7 1826.5v-8M857.7 2469.7v8M902.1 1826.5v-8M902.1 2469.7v8M946.4 1826.5v-16M946.4 2469.7v16M990.7 1826.5v-8M990.7 2469.7v8M1035.1 1826.5v-8M1035.1 2469.7v8M1079.4 1826.5v-16M1079.4 2469.7v16M1123.7 1826.5v-8M1123.7 2469.7v8M1168.1 1826.5v-8M1168.1 2469.7v8M1212.4 1826.5v-16M1212.4 2469.7v16M1256.7 1826.5v-8M1256.7 2469.7v8M1301.1 1826.5v-8M1301.1 2469.7v8M1345.4 1826.5v-16M1345.4 2469.7v16M1389.8 1826.5v-8M1389.8 2469.7v8M1434.1 1826.5v-8M1434.1 2469.7v8M1478.4 1826.5v-16M1478.4 2469.7v16M1522.8 1826.5v-8M1522.8 2469.7v8M1567.1 1826.5v-8M1567.1 2469.7v8M1611.4 1826.5v-16M1611.4 2469.7v16M1655.8 1826.5v-8M1655.8 2469.7v8M1700.1 1826.5v-8M1700.1 2469.7v8M1744.4 1826.5v-16M1744.4 2469.7v16M1788.8 1826.5v-8M1788.8 2469.7v8M1833.1 1826.5v-8M1833.1 2469.7v8M1877.4 1826.5v-16M1877.4 2469.7v16M247.2 1905.1h-16M1910.1 1905.1h16M247.2 2028.9h-16M1910.1 2028.9h16M247.2 2152.7h-16M1910.1 2152.7h16M247.2 2276.5h-16M1910.1 2276.5h16M247.2 2400.4h-16M1910.1 2400.4h16" stroke="#000" stroke-width="2.2" fill="none"/><g font-family="Liberation Sans" font-weight="bold" font-size="45" fill="#000"><text transform="translate(281.4 2533.4) scale(0.966 1)" text-anchor="middle">0</text><text transform="translate(414.4 2533.4) scale(0.966 1)" text-anchor="middle">6</text><text transform="translate(547.4 2533.4) scale(0.966 1)" text-anchor="middle">12</text><text transform="translate(680.4 2533.4) scale(0.966 1)" text-anchor="middle">18</text><text transform="translate(813.4 2533.4) scale(0.966 1)" text-anchor="middle">24</text><text transform="translate(946.4 2533.4) scale(0.966 1)" text-anchor="middle">30</text><text transform="translate(1079.4 2533.4) scale(0.966 1)" text-anchor="middle">36</text><text transform="translate(1212.4 2533.4) scale(0.966 1)" text-anchor="middle">42</text><text transform="translate(1345.4 2533.4) scale(0.966 1)" text-anchor="middle">48</text><text transform="translate(1478.4 2533.4) scale(0.966 1)" text-anchor="middle">54</text><text transform="translate(1611.4 2533.4) scale(0.966 1)" text-anchor="middle">60</text><text transform="translate(1744.4 2533.4) scale(0.966 1)" text-anchor="middle">66</text><text transform="translate(1877.4 2533.4) scale(0.966 1)" text-anchor="middle">72</text><text transform="translate(214.2 1921) scale(0.966 1)" text-anchor="end">40</text><text transform="translate(214.2 2044.8) scale(0.966 1)" text-anchor="end">0</text><text transform="translate(214.2 2168.6) scale(0.966 1)" text-anchor="end">−40</text><text transform="translate(214.2 2292.4) scale(0.966 1)" text-anchor="end">−80</text><text transform="translate(214.2 2416.3) scale(0.966 1)" text-anchor="end">−120</text></g><text transform="translate(90.0 2148.1) rotate(-90) scale(0.94 1)" text-anchor="middle" font-family="Liberation Sans" font-size="45.06" fill="#000">Up (mm)</text><text transform="translate(1077.9 2592) scale(0.948 1)" text-anchor="middle" font-family="Liberation Sans" font-size="44.84" fill="#000">Time (hours since beginning of first day UTC)</text><rect x="250" y="2696.1" width="1657.1" height="152.7" fill="none" stroke="#000" stroke-width="5.6"/><g font-family="Liberation Sans" font-weight="bold" font-size="42.6" text-anchor="middle" fill="#000"><text x="1079.4" y="2734.9">Processed Using JPL Rapid Orbits</text><text x="1078.3" y="2774.5">by the Nevada Geodetic Laboratory.</text><text x="1078.2" y="2815.4">Plotted on 2026-Jan-10.</text></g></svg>
</body></html>
